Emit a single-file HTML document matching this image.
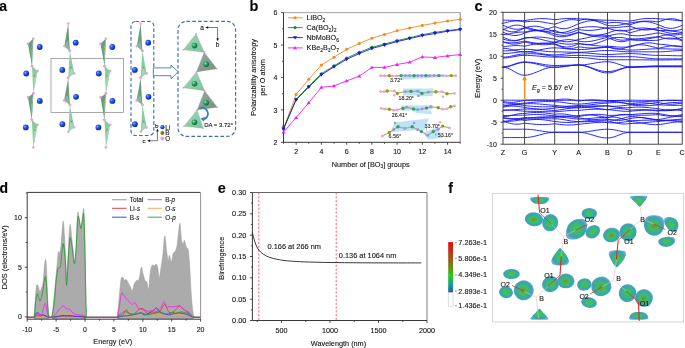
<!DOCTYPE html>
<html><head><meta charset="utf-8"><style>
html,body{margin:0;padding:0;background:#fff;width:685px;height:348px;overflow:hidden}
svg{display:block;font-family:"Liberation Sans",sans-serif}
svg text{opacity:0.995;stroke:#161616;stroke-width:0.12px}
</style></head><body>
<svg width="685" height="348" viewBox="0 0 685 348">
<rect width="685" height="348" fill="#fff"/>
<text x="-0.8" y="11" font-size="14" font-weight="bold">a</text>
<defs>
<radialGradient id="li" cx="35%" cy="35%" r="65%">
<stop offset="0" stop-color="#8fb0ff"/>
<stop offset="0.35" stop-color="#3060f0"/>
<stop offset="1" stop-color="#0a25a8"/>
</radialGradient>
<radialGradient id="bg" cx="35%" cy="35%" r="65%">
<stop offset="0" stop-color="#a8f0c0"/>
<stop offset="0.4" stop-color="#2aa860"/>
<stop offset="1" stop-color="#0c6a34"/>
</radialGradient>
<linearGradient id="tl" x1="0" y1="0" x2="1" y2="1">
<stop offset="0" stop-color="#a4d8b8"/>
<stop offset="1" stop-color="#7cc29c"/>
</linearGradient>
<linearGradient id="td" x1="0" y1="0" x2="1" y2="1">
<stop offset="0" stop-color="#98ac9f"/>
<stop offset="1" stop-color="#768e80"/>
</linearGradient>
</defs>
<rect x="51.0" y="58.6" width="72.6" height="53.8" fill="none" stroke="#8e8e8e" stroke-width="0.75"/>
<polygon points="27.9,43.8 33.3,38.6 32,66.2" fill="#6a9c80"/>
<polygon points="33.3,38.6 32,66.2 31.07,49.53" fill="#8fbfa2" opacity="0.8"/>
<circle cx="31.5" cy="48.8" r="0.85" fill="#a89a10"/>
<polygon points="32,66.2 37.6,71 33.3,93.4" fill="#86cca4"/>
<polygon points="37.6,71 33.3,93.4 34.3,76.87" fill="#a8dcbc" opacity="0.8"/>
<circle cx="34.5" cy="76" r="0.85" fill="#a89a10"/>
<polygon points="27.9,97.2 33.3,93.4 31.8,119.8" fill="#6a9c80"/>
<polygon points="33.3,93.4 31.8,119.8 31,103.47" fill="#8fbfa2" opacity="0.8"/>
<circle cx="31.8" cy="102.6" r="0.85" fill="#a89a10"/>
<polygon points="31.8,119.8 37.6,124.8 33.3,147.4" fill="#86cca4"/>
<polygon points="37.6,124.8 33.3,147.4 34.23,130.67" fill="#a8dcbc" opacity="0.8"/>
<circle cx="34.8" cy="130" r="0.85" fill="#a89a10"/>
<circle cx="27.9" cy="43.8" r="1.15" fill="#f2a6d4" stroke="#d884b8" stroke-width="0.25"/>
<circle cx="33.3" cy="38.6" r="1.15" fill="#f2a6d4" stroke="#d884b8" stroke-width="0.25"/>
<circle cx="32" cy="66.2" r="1.15" fill="#f2a6d4" stroke="#d884b8" stroke-width="0.25"/>
<circle cx="32" cy="66.2" r="1.15" fill="#f2a6d4" stroke="#d884b8" stroke-width="0.25"/>
<circle cx="37.6" cy="71" r="1.15" fill="#f2a6d4" stroke="#d884b8" stroke-width="0.25"/>
<circle cx="33.3" cy="93.4" r="1.15" fill="#f2a6d4" stroke="#d884b8" stroke-width="0.25"/>
<circle cx="27.9" cy="97.2" r="1.15" fill="#f2a6d4" stroke="#d884b8" stroke-width="0.25"/>
<circle cx="33.3" cy="93.4" r="1.15" fill="#f2a6d4" stroke="#d884b8" stroke-width="0.25"/>
<circle cx="31.8" cy="119.8" r="1.15" fill="#f2a6d4" stroke="#d884b8" stroke-width="0.25"/>
<circle cx="31.8" cy="119.8" r="1.15" fill="#f2a6d4" stroke="#d884b8" stroke-width="0.25"/>
<circle cx="37.6" cy="124.8" r="1.15" fill="#f2a6d4" stroke="#d884b8" stroke-width="0.25"/>
<circle cx="33.3" cy="147.4" r="1.15" fill="#f2a6d4" stroke="#d884b8" stroke-width="0.25"/>
<circle cx="39.7" cy="47" r="2.9" fill="url(#li)"/>
<circle cx="26.2" cy="73.5" r="2.9" fill="url(#li)"/>
<circle cx="39.8" cy="100.9" r="2.9" fill="url(#li)"/>
<circle cx="25.8" cy="127.4" r="2.9" fill="url(#li)"/>
<polygon points="68.2,23.6 64.3,46.2 69.9,50.9" fill="#6a9c80"/>
<polygon points="64.3,46.2 69.9,50.9 67.47,40.23" fill="#8fbfa2" opacity="0.8"/>
<circle cx="67.7" cy="40.8" r="0.85" fill="#a89a10"/>
<polygon points="69.9,50.9 74.2,73.5 68.2,77.8" fill="#86cca4"/>
<polygon points="74.2,73.5 68.2,77.8 70.77,67.4" fill="#a8dcbc" opacity="0.8"/>
<circle cx="71" cy="67.7" r="0.85" fill="#a89a10"/>
<polygon points="68.2,77.8 64.1,100.5 69.9,104.8" fill="#6a9c80"/>
<polygon points="64.1,100.5 69.9,104.8 67.4,94.37" fill="#8fbfa2" opacity="0.8"/>
<circle cx="67.8" cy="95" r="0.85" fill="#a89a10"/>
<polygon points="69.9,104.8 74.2,127.4 68.4,131.7" fill="#86cca4"/>
<polygon points="74.2,127.4 68.4,131.7 70.83,121.3" fill="#a8dcbc" opacity="0.8"/>
<circle cx="71" cy="121.6" r="0.85" fill="#a89a10"/>
<circle cx="68.2" cy="23.6" r="1.15" fill="#f2a6d4" stroke="#d884b8" stroke-width="0.25"/>
<circle cx="64.3" cy="46.2" r="1.15" fill="#f2a6d4" stroke="#d884b8" stroke-width="0.25"/>
<circle cx="69.9" cy="50.9" r="1.15" fill="#f2a6d4" stroke="#d884b8" stroke-width="0.25"/>
<circle cx="69.9" cy="50.9" r="1.15" fill="#f2a6d4" stroke="#d884b8" stroke-width="0.25"/>
<circle cx="74.2" cy="73.5" r="1.15" fill="#f2a6d4" stroke="#d884b8" stroke-width="0.25"/>
<circle cx="68.2" cy="77.8" r="1.15" fill="#f2a6d4" stroke="#d884b8" stroke-width="0.25"/>
<circle cx="68.2" cy="77.8" r="1.15" fill="#f2a6d4" stroke="#d884b8" stroke-width="0.25"/>
<circle cx="64.1" cy="100.5" r="1.15" fill="#f2a6d4" stroke="#d884b8" stroke-width="0.25"/>
<circle cx="69.9" cy="104.8" r="1.15" fill="#f2a6d4" stroke="#d884b8" stroke-width="0.25"/>
<circle cx="69.9" cy="104.8" r="1.15" fill="#f2a6d4" stroke="#d884b8" stroke-width="0.25"/>
<circle cx="74.2" cy="127.4" r="1.15" fill="#f2a6d4" stroke="#d884b8" stroke-width="0.25"/>
<circle cx="68.4" cy="131.7" r="1.15" fill="#f2a6d4" stroke="#d884b8" stroke-width="0.25"/>
<circle cx="75.7" cy="42.7" r="2.9" fill="url(#li)"/>
<circle cx="62.3" cy="69.9" r="2.9" fill="url(#li)"/>
<circle cx="76" cy="96.8" r="2.9" fill="url(#li)"/>
<circle cx="62.4" cy="124.2" r="2.9" fill="url(#li)"/>
<polygon points="100.5,43.8 105.9,38.6 104.6,66.2" fill="#6a9c80"/>
<polygon points="105.9,38.6 104.6,66.2 103.67,49.53" fill="#8fbfa2" opacity="0.8"/>
<circle cx="104.1" cy="48.8" r="0.85" fill="#a89a10"/>
<polygon points="104.6,66.2 110.2,71 105.9,93.4" fill="#86cca4"/>
<polygon points="110.2,71 105.9,93.4 106.9,76.87" fill="#a8dcbc" opacity="0.8"/>
<circle cx="107.1" cy="76" r="0.85" fill="#a89a10"/>
<polygon points="100.5,97.2 105.9,93.4 104.4,119.8" fill="#6a9c80"/>
<polygon points="105.9,93.4 104.4,119.8 103.6,103.47" fill="#8fbfa2" opacity="0.8"/>
<circle cx="104.4" cy="102.6" r="0.85" fill="#a89a10"/>
<polygon points="104.4,119.8 110.2,124.8 105.9,147.4" fill="#86cca4"/>
<polygon points="110.2,124.8 105.9,147.4 106.83,130.67" fill="#a8dcbc" opacity="0.8"/>
<circle cx="107.4" cy="130" r="0.85" fill="#a89a10"/>
<circle cx="100.5" cy="43.8" r="1.15" fill="#f2a6d4" stroke="#d884b8" stroke-width="0.25"/>
<circle cx="105.9" cy="38.6" r="1.15" fill="#f2a6d4" stroke="#d884b8" stroke-width="0.25"/>
<circle cx="104.6" cy="66.2" r="1.15" fill="#f2a6d4" stroke="#d884b8" stroke-width="0.25"/>
<circle cx="104.6" cy="66.2" r="1.15" fill="#f2a6d4" stroke="#d884b8" stroke-width="0.25"/>
<circle cx="110.2" cy="71" r="1.15" fill="#f2a6d4" stroke="#d884b8" stroke-width="0.25"/>
<circle cx="105.9" cy="93.4" r="1.15" fill="#f2a6d4" stroke="#d884b8" stroke-width="0.25"/>
<circle cx="100.5" cy="97.2" r="1.15" fill="#f2a6d4" stroke="#d884b8" stroke-width="0.25"/>
<circle cx="105.9" cy="93.4" r="1.15" fill="#f2a6d4" stroke="#d884b8" stroke-width="0.25"/>
<circle cx="104.4" cy="119.8" r="1.15" fill="#f2a6d4" stroke="#d884b8" stroke-width="0.25"/>
<circle cx="104.4" cy="119.8" r="1.15" fill="#f2a6d4" stroke="#d884b8" stroke-width="0.25"/>
<circle cx="110.2" cy="124.8" r="1.15" fill="#f2a6d4" stroke="#d884b8" stroke-width="0.25"/>
<circle cx="105.9" cy="147.4" r="1.15" fill="#f2a6d4" stroke="#d884b8" stroke-width="0.25"/>
<circle cx="112.3" cy="47" r="2.9" fill="url(#li)"/>
<circle cx="98.8" cy="73.5" r="2.9" fill="url(#li)"/>
<circle cx="112.4" cy="100.9" r="2.9" fill="url(#li)"/>
<circle cx="98.4" cy="127.4" r="2.9" fill="url(#li)"/>
<polygon points="140.7,23.6 136.8,46.2 142.4,50.9" fill="#6a9c80"/>
<polygon points="136.8,46.2 142.4,50.9 139.97,40.23" fill="#8fbfa2" opacity="0.8"/>
<circle cx="140.2" cy="40.8" r="0.85" fill="#a89a10"/>
<polygon points="142.4,50.9 146.7,73.5 140.7,77.8" fill="#86cca4"/>
<polygon points="146.7,73.5 140.7,77.8 143.27,67.4" fill="#a8dcbc" opacity="0.8"/>
<circle cx="143.5" cy="67.7" r="0.85" fill="#a89a10"/>
<polygon points="140.7,77.8 136.6,100.5 142.4,104.8" fill="#6a9c80"/>
<polygon points="136.6,100.5 142.4,104.8 139.9,94.37" fill="#8fbfa2" opacity="0.8"/>
<circle cx="140.3" cy="95" r="0.85" fill="#a89a10"/>
<polygon points="142.4,104.8 146.7,127.4 140.9,131.7" fill="#86cca4"/>
<polygon points="146.7,127.4 140.9,131.7 143.33,121.3" fill="#a8dcbc" opacity="0.8"/>
<circle cx="143.5" cy="121.6" r="0.85" fill="#a89a10"/>
<circle cx="140.7" cy="23.6" r="1.15" fill="#f2a6d4" stroke="#d884b8" stroke-width="0.25"/>
<circle cx="136.8" cy="46.2" r="1.15" fill="#f2a6d4" stroke="#d884b8" stroke-width="0.25"/>
<circle cx="142.4" cy="50.9" r="1.15" fill="#f2a6d4" stroke="#d884b8" stroke-width="0.25"/>
<circle cx="142.4" cy="50.9" r="1.15" fill="#f2a6d4" stroke="#d884b8" stroke-width="0.25"/>
<circle cx="146.7" cy="73.5" r="1.15" fill="#f2a6d4" stroke="#d884b8" stroke-width="0.25"/>
<circle cx="140.7" cy="77.8" r="1.15" fill="#f2a6d4" stroke="#d884b8" stroke-width="0.25"/>
<circle cx="140.7" cy="77.8" r="1.15" fill="#f2a6d4" stroke="#d884b8" stroke-width="0.25"/>
<circle cx="136.6" cy="100.5" r="1.15" fill="#f2a6d4" stroke="#d884b8" stroke-width="0.25"/>
<circle cx="142.4" cy="104.8" r="1.15" fill="#f2a6d4" stroke="#d884b8" stroke-width="0.25"/>
<circle cx="142.4" cy="104.8" r="1.15" fill="#f2a6d4" stroke="#d884b8" stroke-width="0.25"/>
<circle cx="146.7" cy="127.4" r="1.15" fill="#f2a6d4" stroke="#d884b8" stroke-width="0.25"/>
<circle cx="140.9" cy="131.7" r="1.15" fill="#f2a6d4" stroke="#d884b8" stroke-width="0.25"/>
<circle cx="148.2" cy="42.7" r="2.9" fill="url(#li)"/>
<circle cx="134.8" cy="69.9" r="2.9" fill="url(#li)"/>
<circle cx="148.5" cy="96.8" r="2.9" fill="url(#li)"/>
<circle cx="134.9" cy="124.2" r="2.9" fill="url(#li)"/>
<rect x="131.0" y="21.5" width="22.8" height="114.0" rx="4.5" fill="none" stroke="#3e6fa6" stroke-width="1.15" stroke-dasharray="3.6 2.2"/>
<rect x="178.0" y="21.4" width="57.6" height="115.0" rx="8.5" fill="none" stroke="#3e6fa6" stroke-width="1.15" stroke-dasharray="3.6 2.2"/>
<polygon points="153.3,67.9 171,67.9 171,65.1 178.1,71.8 171,78.9 171,75.7 153.3,75.7" fill="#fff" stroke="#4a78ae" stroke-width="0.9"/>
<path d="M157.4 140.7 V131 M157.4 140.7 H149.5" fill="none" stroke="#222" stroke-width="0.6"/>
<polygon points="156.1,131.6 158.7,131.6 157.4,128.6" fill="#161616"/>
<polygon points="150.1,139.4 150.1,142.0 147.1,140.7" fill="#161616"/>
<text x="154.9" y="127.8" font-size="6.2" fill="#161616">b</text>
<text x="142.6" y="142.9" font-size="6.2" fill="#161616">c</text>
<circle cx="162.4" cy="127.2" r="2.1" fill="url(#li)"/>
<circle cx="162.4" cy="132.9" r="2.0" fill="#8a7a10"/>
<circle cx="162.4" cy="138.6" r="2.0" fill="#f0a0d0"/>
<text x="165.3" y="129.5" font-size="6.3" fill="#161616">Li</text>
<text x="165.3" y="135.2" font-size="6.3" fill="#161616">B</text>
<text x="165.3" y="140.9" font-size="6.3" fill="#161616">O</text>
<polygon points="196.1,33.7 183.4,49.8 204.2,52.2" fill="url(#tl)" stroke="#7aa890" stroke-width="0.3"/>
<polygon points="204.2,52.2 196.5,71.9 216.8,68.7" fill="url(#td)" stroke="#7aa890" stroke-width="0.3"/>
<polygon points="196.5,71.9 183.4,87.7 204.6,90.7" fill="url(#tl)" stroke="#7aa890" stroke-width="0.3"/>
<polygon points="204.6,90.7 197.1,109.9 217.2,107.2" fill="url(#td)" stroke="#7aa890" stroke-width="0.3"/>
<polygon points="197.1,109.9 184,126.3 203.2,128.3" fill="url(#tl)" stroke="#7aa890" stroke-width="0.3"/>
<circle cx="196.1" cy="33.7" r="0.7" fill="#e880c0"/>
<circle cx="183.4" cy="49.8" r="0.7" fill="#e880c0"/>
<circle cx="204.2" cy="52.2" r="0.7" fill="#e880c0"/>
<circle cx="194.5" cy="45.6" r="2.8" fill="url(#bg)"/>
<circle cx="204.2" cy="52.2" r="0.7" fill="#e880c0"/>
<circle cx="196.5" cy="71.9" r="0.7" fill="#e880c0"/>
<circle cx="216.8" cy="68.7" r="0.7" fill="#e880c0"/>
<circle cx="206.2" cy="64.3" r="2.8" fill="url(#bg)"/>
<circle cx="196.5" cy="71.9" r="0.7" fill="#e880c0"/>
<circle cx="183.4" cy="87.7" r="0.7" fill="#e880c0"/>
<circle cx="204.6" cy="90.7" r="0.7" fill="#e880c0"/>
<circle cx="194.5" cy="83.7" r="2.8" fill="url(#bg)"/>
<circle cx="204.6" cy="90.7" r="0.7" fill="#e880c0"/>
<circle cx="197.1" cy="109.9" r="0.7" fill="#e880c0"/>
<circle cx="217.2" cy="107.2" r="0.7" fill="#e880c0"/>
<circle cx="206.2" cy="102.8" r="2.8" fill="url(#bg)"/>
<circle cx="197.1" cy="109.9" r="0.7" fill="#e880c0"/>
<circle cx="184" cy="126.3" r="0.7" fill="#e880c0"/>
<circle cx="203.2" cy="128.3" r="0.7" fill="#e880c0"/>
<circle cx="194.5" cy="122.3" r="2.8" fill="url(#bg)"/>
<path d="M217.6 27.5 H207.5 M217.6 27.5 V38.8" fill="none" stroke="#222" stroke-width="0.6"/>
<polygon points="208.2,26.2 208.2,28.8 205.2,27.5" fill="#161616"/>
<polygon points="216.3,38.2 218.9,38.2 217.6,41.2" fill="#161616"/>
<text x="200.2" y="29.8" font-size="6.5" fill="#161616">a</text>
<text x="215.8" y="47.2" font-size="6.5" fill="#161616">b</text>
<path d="M199.4 108.2 C206.5 105.8 211.2 114.2 205.0 119.0" fill="none" stroke="#3a7fc4" stroke-width="1.7"/>
<polygon points="206.6,116.6 203.6,121.6 200.4,118.6" fill="#3a7fc4"/>
<text x="204.2" y="127.1" font-size="6.0" fill="#161616">DA = 3.72°</text>
<text x="249.4" y="10.5" font-size="14.5" font-weight="bold">b</text>
<line x1="283.5" y1="12.6" x2="460.2" y2="12.6" stroke="#9a9a9a" stroke-width="0.9"/>
<line x1="460.2" y1="12.6" x2="460.2" y2="142.3" stroke="#777" stroke-width="0.9"/>
<path d="M283.5 12.6 V142.3 H460.2" fill="none" stroke="#222" stroke-width="0.9"/>
<line x1="281" y1="142.3" x2="283.5" y2="142.3" stroke="#222" stroke-width="0.8"/>
<text x="277.3" y="145.1" font-size="7" text-anchor="end" fill="#161616">2</text>
<line x1="281" y1="109.88" x2="283.5" y2="109.88" stroke="#222" stroke-width="0.8"/>
<text x="277.3" y="112.67" font-size="7" text-anchor="end" fill="#161616">3</text>
<line x1="281" y1="77.45" x2="283.5" y2="77.45" stroke="#222" stroke-width="0.8"/>
<text x="277.3" y="80.25" font-size="7" text-anchor="end" fill="#161616">4</text>
<line x1="281" y1="45.03" x2="283.5" y2="45.03" stroke="#222" stroke-width="0.8"/>
<text x="277.3" y="47.83" font-size="7" text-anchor="end" fill="#161616">5</text>
<line x1="281" y1="12.6" x2="283.5" y2="12.6" stroke="#222" stroke-width="0.8"/>
<text x="277.3" y="15.4" font-size="7" text-anchor="end" fill="#161616">6</text>
<line x1="282" y1="126.09" x2="283.5" y2="126.09" stroke="#222" stroke-width="0.7"/>
<line x1="282" y1="93.66" x2="283.5" y2="93.66" stroke="#222" stroke-width="0.7"/>
<line x1="282" y1="61.24" x2="283.5" y2="61.24" stroke="#222" stroke-width="0.7"/>
<line x1="282" y1="28.81" x2="283.5" y2="28.81" stroke="#222" stroke-width="0.7"/>
<line x1="283.5" y1="142.3" x2="283.5" y2="143.8" stroke="#222" stroke-width="0.8"/>
<line x1="296.12" y1="142.3" x2="296.12" y2="144.8" stroke="#222" stroke-width="0.8"/>
<text x="296.12" y="154.3" font-size="7" text-anchor="middle" fill="#161616">2</text>
<line x1="308.74" y1="142.3" x2="308.74" y2="143.8" stroke="#222" stroke-width="0.8"/>
<line x1="321.36" y1="142.3" x2="321.36" y2="144.8" stroke="#222" stroke-width="0.8"/>
<text x="321.36" y="154.3" font-size="7" text-anchor="middle" fill="#161616">4</text>
<line x1="333.99" y1="142.3" x2="333.99" y2="143.8" stroke="#222" stroke-width="0.8"/>
<line x1="346.61" y1="142.3" x2="346.61" y2="144.8" stroke="#222" stroke-width="0.8"/>
<text x="346.61" y="154.3" font-size="7" text-anchor="middle" fill="#161616">6</text>
<line x1="359.23" y1="142.3" x2="359.23" y2="143.8" stroke="#222" stroke-width="0.8"/>
<line x1="371.85" y1="142.3" x2="371.85" y2="144.8" stroke="#222" stroke-width="0.8"/>
<text x="371.85" y="154.3" font-size="7" text-anchor="middle" fill="#161616">8</text>
<line x1="384.47" y1="142.3" x2="384.47" y2="143.8" stroke="#222" stroke-width="0.8"/>
<line x1="397.09" y1="142.3" x2="397.09" y2="144.8" stroke="#222" stroke-width="0.8"/>
<text x="397.09" y="154.3" font-size="7" text-anchor="middle" fill="#161616">10</text>
<line x1="409.71" y1="142.3" x2="409.71" y2="143.8" stroke="#222" stroke-width="0.8"/>
<line x1="422.34" y1="142.3" x2="422.34" y2="144.8" stroke="#222" stroke-width="0.8"/>
<text x="422.34" y="154.3" font-size="7" text-anchor="middle" fill="#161616">12</text>
<line x1="434.96" y1="142.3" x2="434.96" y2="143.8" stroke="#222" stroke-width="0.8"/>
<line x1="447.58" y1="142.3" x2="447.58" y2="144.8" stroke="#222" stroke-width="0.8"/>
<text x="447.58" y="154.3" font-size="7" text-anchor="middle" fill="#161616">14</text>
<line x1="460.2" y1="142.3" x2="460.2" y2="143.8" stroke="#222" stroke-width="0.8"/>
<text x="370.7" y="166.6" font-size="7.3" text-anchor="middle" fill="#161616">Number of [BO<tspan font-size="5" dy="1.8">3</tspan><tspan dy="-1.8">] groups</tspan></text>
<text transform="translate(255.7 77.45) rotate(-90)" font-size="7.3" text-anchor="middle" fill="#161616">Polarizability anisotropy</text>
<text transform="translate(265.3 77.45) rotate(-90)" font-size="7.3" text-anchor="middle" fill="#161616">per O atom</text>
<polyline points="283.5,128.8 296.12,94.4 308.74,79.3 321.36,65.1 333.99,57.2 346.61,49.3 359.23,43.5 371.85,38.2 384.47,34.5 397.09,30.7 409.71,28 422.34,25.4 434.96,23.1 447.58,21 460.2,19.3" fill="none" stroke="#f7891f" stroke-width="0.9"/>
<circle cx="283.5" cy="128.8" r="1.55" fill="#f7891f"/>
<circle cx="296.12" cy="94.4" r="1.55" fill="#f7891f"/>
<circle cx="308.74" cy="79.3" r="1.55" fill="#f7891f"/>
<circle cx="321.36" cy="65.1" r="1.55" fill="#f7891f"/>
<circle cx="333.99" cy="57.2" r="1.55" fill="#f7891f"/>
<circle cx="346.61" cy="49.3" r="1.55" fill="#f7891f"/>
<circle cx="359.23" cy="43.5" r="1.55" fill="#f7891f"/>
<circle cx="371.85" cy="38.2" r="1.55" fill="#f7891f"/>
<circle cx="384.47" cy="34.5" r="1.55" fill="#f7891f"/>
<circle cx="397.09" cy="30.7" r="1.55" fill="#f7891f"/>
<circle cx="409.71" cy="28" r="1.55" fill="#f7891f"/>
<circle cx="422.34" cy="25.4" r="1.55" fill="#f7891f"/>
<circle cx="434.96" cy="23.1" r="1.55" fill="#f7891f"/>
<circle cx="447.58" cy="21" r="1.55" fill="#f7891f"/>
<circle cx="460.2" cy="19.3" r="1.55" fill="#f7891f"/>
<polyline points="283.5,128.6 296.12,99.2 308.74,86.2 321.36,73.7 333.99,65.9 346.61,58.1 359.23,52.3 371.85,47.3 384.47,44.1 397.09,40.6 409.71,37.7 422.34,34.7 434.96,32.3 447.58,30.6 460.2,29" fill="none" stroke="#1c8a2a" stroke-width="0.9"/>
<circle cx="283.5" cy="128.6" r="1.55" fill="#1c8a2a"/>
<circle cx="296.12" cy="99.2" r="1.55" fill="#1c8a2a"/>
<circle cx="308.74" cy="86.2" r="1.55" fill="#1c8a2a"/>
<circle cx="321.36" cy="73.7" r="1.55" fill="#1c8a2a"/>
<circle cx="333.99" cy="65.9" r="1.55" fill="#1c8a2a"/>
<circle cx="346.61" cy="58.1" r="1.55" fill="#1c8a2a"/>
<circle cx="359.23" cy="52.3" r="1.55" fill="#1c8a2a"/>
<circle cx="371.85" cy="47.3" r="1.55" fill="#1c8a2a"/>
<circle cx="384.47" cy="44.1" r="1.55" fill="#1c8a2a"/>
<circle cx="397.09" cy="40.6" r="1.55" fill="#1c8a2a"/>
<circle cx="409.71" cy="37.7" r="1.55" fill="#1c8a2a"/>
<circle cx="422.34" cy="34.7" r="1.55" fill="#1c8a2a"/>
<circle cx="434.96" cy="32.3" r="1.55" fill="#1c8a2a"/>
<circle cx="447.58" cy="30.6" r="1.55" fill="#1c8a2a"/>
<circle cx="460.2" cy="29" r="1.55" fill="#1c8a2a"/>
<polyline points="283.5,129 296.12,99.8 308.74,87.1 321.36,74.9 333.99,66.8 346.61,59.3 359.23,53.6 371.85,48.5 384.47,45 397.09,41.6 409.71,38.6 422.34,35.6 434.96,33.5 447.58,31.2 460.2,29.6" fill="none" stroke="#1414f0" stroke-width="0.9"/>
<polygon points="281.5,127.6 285.5,127.6 283.5,130.9" fill="#1414f0"/>
<polygon points="294.12,98.4 298.12,98.4 296.12,101.7" fill="#1414f0"/>
<polygon points="306.74,85.7 310.74,85.7 308.74,89" fill="#1414f0"/>
<polygon points="319.36,73.5 323.36,73.5 321.36,76.8" fill="#1414f0"/>
<polygon points="331.99,65.4 335.99,65.4 333.99,68.7" fill="#1414f0"/>
<polygon points="344.61,57.9 348.61,57.9 346.61,61.2" fill="#1414f0"/>
<polygon points="357.23,52.2 361.23,52.2 359.23,55.5" fill="#1414f0"/>
<polygon points="369.85,47.1 373.85,47.1 371.85,50.4" fill="#1414f0"/>
<polygon points="382.47,43.6 386.47,43.6 384.47,46.9" fill="#1414f0"/>
<polygon points="395.09,40.2 399.09,40.2 397.09,43.5" fill="#1414f0"/>
<polygon points="407.71,37.2 411.71,37.2 409.71,40.5" fill="#1414f0"/>
<polygon points="420.34,34.2 424.34,34.2 422.34,37.5" fill="#1414f0"/>
<polygon points="432.96,32.1 436.96,32.1 434.96,35.4" fill="#1414f0"/>
<polygon points="445.58,29.8 449.58,29.8 447.58,33.1" fill="#1414f0"/>
<polygon points="458.2,28.2 462.2,28.2 460.2,31.5" fill="#1414f0"/>
<polyline points="283.5,132.2 296.12,117.6 308.74,102.9 321.36,87.3 333.99,85.9 346.61,80.9 359.23,76.2 371.85,67.4 384.47,67.4 397.09,64.5 409.71,62.2 422.34,56.9 434.96,57.5 447.58,55.8 460.2,54.6" fill="none" stroke="#f01cf0" stroke-width="0.9"/>
<polygon points="281.5,133.6 285.5,133.6 283.5,130.3" fill="#f01cf0"/>
<polygon points="294.12,119 298.12,119 296.12,115.7" fill="#f01cf0"/>
<polygon points="306.74,104.3 310.74,104.3 308.74,101" fill="#f01cf0"/>
<polygon points="319.36,88.7 323.36,88.7 321.36,85.4" fill="#f01cf0"/>
<polygon points="331.99,87.3 335.99,87.3 333.99,84" fill="#f01cf0"/>
<polygon points="344.61,82.3 348.61,82.3 346.61,79" fill="#f01cf0"/>
<polygon points="357.23,77.6 361.23,77.6 359.23,74.3" fill="#f01cf0"/>
<polygon points="369.85,68.8 373.85,68.8 371.85,65.5" fill="#f01cf0"/>
<polygon points="382.47,68.8 386.47,68.8 384.47,65.5" fill="#f01cf0"/>
<polygon points="395.09,65.9 399.09,65.9 397.09,62.6" fill="#f01cf0"/>
<polygon points="407.71,63.6 411.71,63.6 409.71,60.3" fill="#f01cf0"/>
<polygon points="420.34,58.3 424.34,58.3 422.34,55" fill="#f01cf0"/>
<polygon points="432.96,58.9 436.96,58.9 434.96,55.6" fill="#f01cf0"/>
<polygon points="445.58,57.2 449.58,57.2 447.58,53.9" fill="#f01cf0"/>
<polygon points="458.2,56 462.2,56 460.2,52.7" fill="#f01cf0"/>
<line x1="287.8" y1="17.8" x2="302.8" y2="17.8" stroke="#f7891f" stroke-width="0.9"/>
<circle cx="295.05" cy="17.8" r="1.55" fill="#f7891f"/>
<text x="306.6" y="20.3" font-size="7.2" fill="#161616">LiBO<tspan font-size="5" dy="1.8">2</tspan></text>
<line x1="287.8" y1="27.6" x2="302.8" y2="27.6" stroke="#1c8a2a" stroke-width="0.9"/>
<circle cx="295.05" cy="27.6" r="1.55" fill="#1c8a2a"/>
<text x="306.6" y="30.1" font-size="7.2" fill="#161616">Ca(BO<tspan font-size="5" dy="1.8">2</tspan><tspan dy="-1.8">)</tspan><tspan font-size="5" dy="1.8">2</tspan></text>
<line x1="287.8" y1="37.6" x2="302.8" y2="37.6" stroke="#1414f0" stroke-width="0.9"/>
<polygon points="293.05,36.2 297.05,36.2 295.05,39.5" fill="#1414f0"/>
<text x="306.6" y="40.1" font-size="7.2" fill="#161616">NbMoBO<tspan font-size="5" dy="1.8">6</tspan></text>
<line x1="287.8" y1="47.9" x2="302.8" y2="47.9" stroke="#f01cf0" stroke-width="0.9"/>
<polygon points="293.05,49.3 297.05,49.3 295.05,46" fill="#f01cf0"/>
<text x="306.6" y="50.4" font-size="7.2" fill="#161616">KBe<tspan font-size="5" dy="1.8">2</tspan><tspan dy="-1.8">B</tspan><tspan font-size="5" dy="1.8">3</tspan><tspan dy="-1.8">O</tspan><tspan font-size="5" dy="1.8">7</tspan></text>
<polygon points="400.5,74 445,74.3 444,77 402,79.8" fill="#b4def4" opacity="0.85"/>
<polyline points="380.6,75.7 384.5,75.8 389.3,75.7 392.4,75.9 396.5,75.9 401,75.6 405.4,75.7 409.5,75.8 414.1,75.7 417.8,75.8 421.5,75.7 425.9,75.6 429.6,75.7 434,75.6 438.9,75.6 442.6,75.9 446.5,75.9 451.3,75.6 455.6,75.8" fill="none" stroke="#9aa060" stroke-width="1.2" stroke-opacity="0.8"/>
<circle cx="380.6" cy="75.7" r="1.45" fill="#f0a0d8"/>
<circle cx="384.5" cy="75.8" r="1.45" fill="#f0a0d8"/>
<circle cx="389.3" cy="75.7" r="1.7" fill="#9a9a18"/>
<circle cx="392.4" cy="75.9" r="1.45" fill="#f0a0d8"/>
<circle cx="396.5" cy="75.9" r="1.45" fill="#f0a0d8"/>
<circle cx="401" cy="75.6" r="1.7" fill="#3a9a60"/>
<circle cx="405.4" cy="75.7" r="1.45" fill="#a090e0"/>
<circle cx="409.5" cy="75.8" r="1.45" fill="#a090e0"/>
<circle cx="414.1" cy="75.7" r="1.7" fill="#3a9a60"/>
<circle cx="417.8" cy="75.8" r="1.45" fill="#a090e0"/>
<circle cx="421.5" cy="75.7" r="1.45" fill="#a090e0"/>
<circle cx="425.9" cy="75.6" r="1.7" fill="#3a9a60"/>
<circle cx="429.6" cy="75.7" r="1.45" fill="#a090e0"/>
<circle cx="434" cy="75.6" r="1.45" fill="#a090e0"/>
<circle cx="438.9" cy="75.6" r="1.7" fill="#3a9a60"/>
<circle cx="442.6" cy="75.9" r="1.45" fill="#f0a0d8"/>
<circle cx="446.5" cy="75.9" r="1.45" fill="#f0a0d8"/>
<circle cx="451.3" cy="75.6" r="1.7" fill="#9a9a18"/>
<circle cx="455.6" cy="75.8" r="1.45" fill="#f0a0d8"/>
<text x="389.9" y="82.4" font-size="5.3" fill="#333">3.72°</text>
<polygon points="403,88.6 421.5,88.4 421.5,95.6 403,95.6" fill="#b4def4" opacity="0.85"/>
<polygon points="416,89 433.3,88.3 432.7,96 417,96.5" fill="#b4def4" opacity="0.85"/>
<polyline points="380.6,91.6 384.3,91.6 387.3,91 394.2,91 397.3,93.4 405.4,91.6 411,91.4 417.8,91.3 421.9,93.4 428.3,92.2 435.8,91.8 442,91.8 447,93.8 454.4,93.4" fill="none" stroke="#9aa060" stroke-width="1.2" stroke-opacity="0.8"/>
<circle cx="380.6" cy="91.6" r="1.45" fill="#f0a0d8"/>
<circle cx="384.3" cy="91.6" r="1.45" fill="#f0a0d8"/>
<circle cx="387.3" cy="91" r="1.7" fill="#9a9a18"/>
<circle cx="394.2" cy="91" r="1.45" fill="#f0a0d8"/>
<circle cx="397.3" cy="93.4" r="1.7" fill="#9a9a18"/>
<circle cx="405.4" cy="91.6" r="1.45" fill="#a090e0"/>
<circle cx="411" cy="91.4" r="1.7" fill="#3a9a60"/>
<circle cx="417.8" cy="91.3" r="1.45" fill="#7aa0f0"/>
<circle cx="421.9" cy="93.4" r="1.7" fill="#3a9a60"/>
<circle cx="428.3" cy="92.2" r="1.45" fill="#a090e0"/>
<circle cx="435.8" cy="91.8" r="1.7" fill="#9a9a18"/>
<circle cx="442" cy="91.8" r="1.45" fill="#f0a0d8"/>
<circle cx="447" cy="93.8" r="1.7" fill="#9a9a18"/>
<circle cx="454.4" cy="93.4" r="1.45" fill="#f0a0d8"/>
<circle cx="394.2" cy="95.3" r="1.2" fill="#f0a0d8"/>
<circle cx="418.4" cy="95.9" r="1.2" fill="#a090e0"/>
<circle cx="443" cy="96.8" r="1.2" fill="#f0a0d8"/>
<text x="398.6" y="99.8" font-size="5.3" fill="#333">18.20°</text>
<polygon points="401,105.4 433.3,105.2 432,109.5 402,111" fill="#b4def4" opacity="0.85"/>
<polygon points="412,110 430.5,110.5 432.7,114.3 416,113" fill="#b4def4" opacity="0.85"/>
<polyline points="381.2,108.4 385,108.9 389.3,109.3 393.6,110.2 397.3,109.9 402.9,108.4 406.6,107.2 413.5,108.9 417.8,109.7 422,109 426.5,108.1 430.8,106.8 438.3,107.7 442.6,109.3 446.9,108.9 450.7,106.8 454.4,106" fill="none" stroke="#9aa060" stroke-width="1.2" stroke-opacity="0.8"/>
<circle cx="381.2" cy="108.4" r="1.45" fill="#f0a0d8"/>
<circle cx="385" cy="108.9" r="1.45" fill="#f0a0d8"/>
<circle cx="389.3" cy="109.3" r="1.7" fill="#9a9a18"/>
<circle cx="393.6" cy="110.2" r="1.45" fill="#f0a0d8"/>
<circle cx="397.3" cy="109.9" r="1.45" fill="#f0a0d8"/>
<circle cx="402.9" cy="108.4" r="1.7" fill="#3a9a60"/>
<circle cx="406.6" cy="107.2" r="1.45" fill="#a090e0"/>
<circle cx="413.5" cy="108.9" r="1.7" fill="#3a9a60"/>
<circle cx="417.8" cy="109.7" r="1.45" fill="#7aa0f0"/>
<circle cx="422" cy="109" r="1.45" fill="#a090e0"/>
<circle cx="426.5" cy="108.1" r="1.7" fill="#3a9a60"/>
<circle cx="430.8" cy="106.8" r="1.45" fill="#a090e0"/>
<circle cx="438.3" cy="107.7" r="1.7" fill="#9a9a18"/>
<circle cx="442.6" cy="109.3" r="1.45" fill="#f0a0d8"/>
<circle cx="446.9" cy="108.9" r="1.45" fill="#f0a0d8"/>
<circle cx="450.7" cy="106.8" r="1.7" fill="#9a9a18"/>
<circle cx="454.4" cy="106" r="1.45" fill="#f0a0d8"/>
<text x="391.7" y="117.0" font-size="5.3" fill="#333">26.41°</text>
<polygon points="390.5,132 395,122.3 429,118.6 424.5,129.8" fill="#b4def4" opacity="0.85"/>
<polygon points="423.5,133 437.5,126.5 442.5,138 428,139.5" fill="#b4def4" opacity="0.85"/>
<polyline points="382.4,136 389.3,132.5 393.6,129.8 398,126.7 404.8,128.5 412.2,126.7 417.8,129.8 421.5,131.6 427.7,135.4 433.3,131.6 438.3,129.2 442.6,126.1 449.4,127.9" fill="none" stroke="#9aa060" stroke-width="1.2" stroke-opacity="0.8"/>
<circle cx="382.4" cy="136" r="1.45" fill="#f0a0d8"/>
<circle cx="389.3" cy="132.5" r="1.7" fill="#9a9a18"/>
<circle cx="393.6" cy="129.8" r="1.45" fill="#a090e0"/>
<circle cx="398" cy="126.7" r="1.7" fill="#3a9a60"/>
<circle cx="404.8" cy="128.5" r="1.45" fill="#a090e0"/>
<circle cx="412.2" cy="126.7" r="1.7" fill="#3a9a60"/>
<circle cx="417.8" cy="129.8" r="1.45" fill="#a090e0"/>
<circle cx="421.5" cy="131.6" r="1.7" fill="#3a9a60"/>
<circle cx="427.7" cy="135.4" r="1.45" fill="#7aa0f0"/>
<circle cx="433.3" cy="131.6" r="1.7" fill="#3a9a60"/>
<circle cx="438.3" cy="129.2" r="1.45" fill="#a090e0"/>
<circle cx="442.6" cy="126.1" r="1.7" fill="#9a9a18"/>
<circle cx="449.4" cy="127.9" r="1.45" fill="#f0a0d8"/>
<circle cx="394.9" cy="123" r="1.2" fill="#a090e0"/>
<circle cx="414.1" cy="123" r="1.2" fill="#a090e0"/>
<circle cx="440.1" cy="122.3" r="1.2" fill="#f0a0d8"/>
<line x1="426.5" y1="128" x2="426.5" y2="131" stroke="#555" stroke-width="0.4"/>
<line x1="435.8" y1="133" x2="435.8" y2="136" stroke="#555" stroke-width="0.4"/>
<text x="388.6" y="138.0" font-size="5.3" fill="#333">6.56°</text>
<text x="424.6" y="128.0" font-size="5.3" fill="#333">33.70°</text>
<text x="437.7" y="137.4" font-size="5.3" fill="#333">53.16°</text>
<text x="474.6" y="11.3" font-size="14.5" font-weight="bold">c</text>
<path d="M503 67.23 L505.16 67.43 L507.32 68 L509.48 68.89 L511.64 70.01 L513.8 71.25 L515.96 72.5 L518.12 73.62 L520.28 74.51 L522.44 75.08 L524.6 75.27 L527.61 74.94 L530.62 74.25 L533.63 73.26 L536.64 72.08 L539.65 70.81 L542.66 69.59 L545.67 68.53 L548.68 67.74 L551.69 67.29 L554.7 67.23 L557.09 67.18 L559.48 67.02 L561.87 66.78 L564.26 66.47 L566.65 66.13 L569.04 65.79 L571.43 65.49 L573.82 65.24 L576.21 65.09 L578.6 65.03 L581.49 65.23 L584.38 65.79 L587.27 66.66 L590.16 67.77 L593.05 68.99 L595.94 70.21 L598.83 71.31 L601.72 72.19 L604.61 72.75 L607.5 72.94 L609.74 72.8 L611.98 72.4 L614.22 71.77 L616.46 70.97 L618.7 70.09 L620.94 69.2 L623.18 68.41 L625.42 67.78 L627.66 67.37 L629.9 67.23 L632.74 67.22 L635.58 67.19 L638.42 67.14 L641.26 67.08 L644.1 67.01 L646.94 66.94 L649.78 66.88 L652.62 66.83 L655.46 66.8 L658.3 66.79 L660.69 66.79 L663.08 66.79 L665.47 66.79 L667.86 66.79 L670.25 66.79 L672.64 66.79 L675.03 66.79 L677.42 66.79 L679.81 66.79 L682.2 66.79 M503 67.23 L505.16 67.11 L507.32 66.77 L509.48 66.23 L511.64 65.56 L513.8 64.81 L515.96 64.07 L518.12 63.39 L520.28 62.86 L522.44 62.51 L524.6 62.39 L527.61 62.51 L530.62 62.86 L533.63 63.39 L536.64 64.07 L539.65 64.81 L542.66 65.56 L545.67 66.23 L548.68 66.77 L551.69 67.11 L554.7 67.23 L557.09 67.18 L559.48 67.02 L561.87 66.78 L564.26 66.47 L566.65 66.13 L569.04 65.79 L571.43 65.49 L573.82 65.24 L576.21 65.09 L578.6 65.03 L581.49 65.19 L584.38 65.66 L587.27 66.39 L590.16 67.31 L593.05 68.33 L595.94 69.35 L598.83 70.27 L601.72 71 L604.61 71.46 L607.5 71.63 L609.74 71.52 L611.98 71.21 L614.22 70.72 L616.46 70.11 L618.7 69.43 L620.94 68.75 L623.18 68.14 L625.42 67.65 L627.66 67.34 L629.9 67.23 L632.74 67.21 L635.58 67.15 L638.42 67.05 L641.26 66.93 L644.1 66.79 L646.94 66.65 L649.78 66.53 L652.62 66.43 L655.46 66.37 L658.3 66.35 L660.69 66.35 L663.08 66.35 L665.47 66.35 L667.86 66.35 L670.25 66.35 L672.64 66.35 L675.03 66.35 L677.42 66.35 L679.81 66.35 L682.2 66.35 M503 66.79 L505.16 66.67 L507.32 66.33 L509.48 65.79 L511.64 65.12 L513.8 64.37 L515.96 63.63 L518.12 62.95 L520.28 62.42 L522.44 62.07 L524.6 61.95 L527.61 62.04 L530.62 62.29 L533.63 62.68 L536.64 63.17 L539.65 63.71 L542.66 64.26 L545.67 64.75 L548.68 65.14 L551.69 65.39 L554.7 65.47 L557.09 65.46 L559.48 65.43 L561.87 65.38 L564.26 65.32 L566.65 65.25 L569.04 65.18 L571.43 65.12 L573.82 65.07 L576.21 65.04 L578.6 65.03 L581.49 64.95 L584.38 64.72 L587.27 64.35 L590.16 63.89 L593.05 63.38 L595.94 62.87 L598.83 62.41 L601.72 62.05 L604.61 61.82 L607.5 61.74 L609.74 61.86 L611.98 62.22 L614.22 62.78 L616.46 63.48 L618.7 64.26 L620.94 65.04 L623.18 65.75 L625.42 66.31 L627.66 66.67 L629.9 66.79 L632.74 66.77 L635.58 66.71 L638.42 66.61 L641.26 66.49 L644.1 66.35 L646.94 66.21 L649.78 66.09 L652.62 66 L655.46 65.93 L658.3 65.91 L660.69 65.91 L663.08 65.91 L665.47 65.91 L667.86 65.91 L670.25 65.91 L672.64 65.91 L675.03 65.91 L677.42 65.91 L679.81 65.91 L682.2 65.91 M503 58 L505.16 57.93 L507.32 57.75 L509.48 57.45 L511.64 57.09 L513.8 56.68 L515.96 56.27 L518.12 55.9 L520.28 55.61 L522.44 55.43 L524.6 55.36 L527.61 55.4 L530.62 55.53 L533.63 55.72 L536.64 55.97 L539.65 56.24 L542.66 56.51 L545.67 56.76 L548.68 56.95 L551.69 57.08 L554.7 57.12 L557.09 57.13 L559.48 57.16 L561.87 57.21 L564.26 57.27 L566.65 57.34 L569.04 57.41 L571.43 57.47 L573.82 57.52 L576.21 57.55 L578.6 57.56 L581.49 57.61 L584.38 57.77 L587.27 58.01 L590.16 58.32 L593.05 58.66 L595.94 59 L598.83 59.3 L601.72 59.55 L604.61 59.7 L607.5 59.76 L609.74 59.76 L611.98 59.76 L614.22 59.76 L616.46 59.76 L618.7 59.76 L620.94 59.76 L623.18 59.76 L625.42 59.76 L627.66 59.76 L629.9 59.76 L632.74 59.76 L635.58 59.78 L638.42 59.8 L641.26 59.83 L644.1 59.87 L646.94 59.9 L649.78 59.93 L652.62 59.96 L655.46 59.97 L658.3 59.98 L660.69 59.97 L663.08 59.96 L665.47 59.93 L667.86 59.9 L670.25 59.87 L672.64 59.83 L675.03 59.8 L677.42 59.78 L679.81 59.76 L682.2 59.76 M503 57.12 L505.16 57.04 L507.32 56.83 L509.48 56.48 L511.64 56.06 L513.8 55.58 L515.96 55.11 L518.12 54.68 L520.28 54.34 L522.44 54.12 L524.6 54.04 L527.61 53.82 L530.62 53.74 L533.63 53.78 L536.64 53.97 L539.65 54.26 L542.66 54.64 L545.67 55.08 L548.68 55.51 L551.69 55.91 L554.7 56.24 L557.09 56.22 L559.48 56.16 L561.87 56.06 L564.26 55.94 L566.65 55.8 L569.04 55.66 L571.43 55.54 L573.82 55.44 L576.21 55.38 L578.6 55.36 L581.49 55.39 L584.38 55.49 L587.27 55.63 L590.16 55.82 L593.05 56.02 L595.94 56.22 L598.83 56.41 L601.72 56.55 L604.61 56.65 L607.5 56.68 L609.74 56.68 L611.98 56.68 L614.22 56.68 L616.46 56.68 L618.7 56.68 L620.94 56.68 L623.18 56.68 L625.42 56.68 L627.66 56.68 L629.9 56.68 L632.74 56.73 L635.58 56.89 L638.42 57.13 L641.26 57.44 L644.1 57.78 L646.94 58.12 L649.78 58.42 L652.62 58.67 L655.46 58.82 L658.3 58.88 L660.69 58.88 L663.08 58.88 L665.47 58.88 L667.86 58.88 L670.25 58.88 L672.64 58.88 L675.03 58.88 L677.42 58.88 L679.81 58.88 L682.2 58.88 M503 53.6 L505.16 53.56 L507.32 53.43 L509.48 53.24 L511.64 52.99 L513.8 52.72 L515.96 52.45 L518.12 52.21 L520.28 52.01 L522.44 51.89 L524.6 51.84 L527.61 51.92 L530.62 52.14 L533.63 52.48 L536.64 52.91 L539.65 53.38 L542.66 53.86 L545.67 54.29 L548.68 54.63 L551.69 54.85 L554.7 54.92 L557.09 54.87 L559.48 54.71 L561.87 54.47 L564.26 54.16 L566.65 53.82 L569.04 53.48 L571.43 53.18 L573.82 52.93 L576.21 52.78 L578.6 52.72 L581.49 52.77 L584.38 52.89 L587.27 53.09 L590.16 53.33 L593.05 53.6 L595.94 53.87 L598.83 54.12 L601.72 54.31 L604.61 54.44 L607.5 54.48 L609.74 54.46 L611.98 54.4 L614.22 54.3 L616.46 54.18 L618.7 54.04 L620.94 53.91 L623.18 53.78 L625.42 53.69 L627.66 53.62 L629.9 53.6 L632.74 53.65 L635.58 53.77 L638.42 53.96 L641.26 54.21 L644.1 54.48 L646.94 54.75 L649.78 55 L652.62 55.19 L655.46 55.32 L658.3 55.36 L660.69 55.37 L663.08 55.4 L665.47 55.45 L667.86 55.51 L670.25 55.58 L672.64 55.65 L675.03 55.71 L677.42 55.76 L679.81 55.79 L682.2 55.8 M503 50.96 L505.16 50.92 L507.32 50.8 L509.48 50.6 L511.64 50.36 L513.8 50.09 L515.96 49.81 L518.12 49.57 L520.28 49.37 L522.44 49.25 L524.6 49.21 L527.61 49.27 L530.62 49.46 L533.63 49.75 L536.64 50.12 L539.65 50.53 L542.66 50.93 L545.67 51.3 L548.68 51.59 L551.69 51.78 L554.7 51.84 L557.09 51.85 L559.48 51.89 L561.87 51.93 L564.26 52 L566.65 52.06 L569.04 52.13 L571.43 52.19 L573.82 52.24 L576.21 52.27 L578.6 52.28 L581.49 52.24 L584.38 52.12 L587.27 51.92 L590.16 51.68 L593.05 51.4 L595.94 51.13 L598.83 50.89 L601.72 50.69 L604.61 50.57 L607.5 50.53 L609.74 50.56 L611.98 50.65 L614.22 50.8 L616.46 50.98 L618.7 51.18 L620.94 51.39 L623.18 51.57 L625.42 51.72 L627.66 51.81 L629.9 51.84 L632.74 51.84 L635.58 51.84 L638.42 51.84 L641.26 51.84 L644.1 51.84 L646.94 51.84 L649.78 51.84 L652.62 51.84 L655.46 51.84 L658.3 51.84 L660.69 51.81 L663.08 51.72 L665.47 51.57 L667.86 51.39 L670.25 51.18 L672.64 50.98 L675.03 50.8 L677.42 50.65 L679.81 50.56 L682.2 50.53 M503 48.33 L505.16 48.41 L507.32 48.66 L509.48 49.05 L511.64 49.54 L513.8 50.09 L515.96 50.63 L518.12 51.12 L520.28 51.51 L522.44 51.76 L524.6 51.84 L527.61 51.75 L530.62 51.47 L533.63 51.03 L536.64 50.48 L539.65 49.87 L542.66 49.25 L545.67 48.7 L548.68 48.27 L551.69 47.98 L554.7 47.89 L557.09 47.93 L559.48 48.06 L561.87 48.25 L564.26 48.5 L566.65 48.77 L569.04 49.04 L571.43 49.28 L573.82 49.48 L576.21 49.6 L578.6 49.65 L581.49 49.59 L584.38 49.44 L587.27 49.19 L590.16 48.89 L593.05 48.55 L595.94 48.21 L598.83 47.9 L601.72 47.66 L604.61 47.5 L607.5 47.45 L609.74 47.51 L611.98 47.7 L614.22 47.99 L616.46 48.36 L618.7 48.77 L620.94 49.17 L623.18 49.54 L625.42 49.83 L627.66 50.02 L629.9 50.09 L632.74 50.05 L635.58 49.96 L638.42 49.81 L641.26 49.63 L644.1 49.43 L646.94 49.22 L649.78 49.04 L652.62 48.89 L655.46 48.8 L658.3 48.77 L660.69 48.78 L663.08 48.81 L665.47 48.86 L667.86 48.92 L670.25 48.99 L672.64 49.05 L675.03 49.12 L677.42 49.16 L679.81 49.2 L682.2 49.21 M503 46.82 L505.16 46.52 L507.32 46.23 L509.48 45.96 L511.64 45.76 L513.8 45.62 L515.96 45.58 L518.12 45.63 L520.28 45.77 L522.44 45.99 L524.6 46.25 L527.61 45.57 L530.62 44.86 L533.63 44.19 L536.64 43.63 L539.65 43.23 L542.66 43.04 L545.67 43.06 L548.68 43.3 L551.69 43.74 L554.7 44.33 L557.09 45.27 L559.48 46.24 L561.87 47.14 L564.26 47.88 L566.65 48.4 L569.04 48.63 L571.43 48.56 L573.82 48.2 L576.21 47.57 L578.6 46.75 L581.49 47.17 L584.38 47.54 L587.27 47.82 L590.16 47.99 L593.05 48.02 L595.94 47.92 L598.83 47.69 L601.72 47.36 L604.61 46.96 L607.5 46.53 L609.74 47.41 L611.98 48.18 L614.22 48.77 L616.46 49.12 L618.7 49.2 L620.94 48.99 L623.18 48.52 L625.42 47.84 L627.66 47.01 L629.9 46.11 L632.74 45.49 L635.58 45.03 L638.42 44.78 L641.26 44.77 L644.1 44.99 L646.94 45.43 L649.78 46.03 L652.62 46.75 L655.46 47.51 L658.3 48.23 L660.69 47.77 L663.08 47.27 L665.47 46.78 L667.86 46.34 L670.25 46.01 L672.64 45.81 L675.03 45.76 L677.42 45.87 L679.81 46.13 L682.2 46.51 M503 41.89 L505.16 42.56 L507.32 43.18 L509.48 43.67 L511.64 43.99 L513.8 44.11 L515.96 44.02 L518.12 43.73 L520.28 43.25 L522.44 42.65 L524.6 41.98 L527.61 42.58 L530.62 43.2 L533.63 43.79 L536.64 44.27 L539.65 44.62 L542.66 44.78 L545.67 44.75 L548.68 44.53 L551.69 44.14 L554.7 43.62 L557.09 44.65 L559.48 45.58 L561.87 46.34 L564.26 46.83 L566.65 47.03 L569.04 46.9 L571.43 46.46 L573.82 45.75 L576.21 44.84 L578.6 43.82 L581.49 43.96 L584.38 44.2 L587.27 44.53 L590.16 44.9 L593.05 45.29 L595.94 45.65 L598.83 45.95 L601.72 46.16 L604.61 46.26 L607.5 46.24 L609.74 46.39 L611.98 46.56 L614.22 46.73 L616.46 46.9 L618.7 47.03 L620.94 47.13 L623.18 47.17 L625.42 47.17 L627.66 47.1 L629.9 46.99 L632.74 46.18 L635.58 45.32 L638.42 44.48 L641.26 43.77 L644.1 43.23 L646.94 42.93 L649.78 42.89 L652.62 43.13 L655.46 43.61 L658.3 44.28 L660.69 44.3 L663.08 44.44 L665.47 44.68 L667.86 45.01 L670.25 45.39 L672.64 45.77 L675.03 46.14 L677.42 46.44 L679.81 46.65 L682.2 46.76 M503 41.93 L505.16 42.31 L507.32 42.61 L509.48 42.8 L511.64 42.87 L513.8 42.8 L515.96 42.6 L518.12 42.3 L520.28 41.92 L522.44 41.49 L524.6 41.07 L527.61 41.69 L530.62 42.29 L533.63 42.83 L536.64 43.25 L539.65 43.51 L542.66 43.59 L545.67 43.47 L548.68 43.17 L551.69 42.71 L554.7 42.15 L557.09 42.64 L559.48 43.12 L561.87 43.55 L564.26 43.89 L566.65 44.11 L569.04 44.18 L571.43 44.1 L573.82 43.88 L576.21 43.53 L578.6 43.1 L581.49 43.94 L584.38 44.51 L587.27 44.76 L590.16 44.66 L593.05 44.22 L595.94 43.49 L598.83 42.53 L601.72 41.44 L604.61 40.33 L607.5 39.3 L609.74 38.73 L611.98 38.2 L614.22 37.79 L616.46 37.53 L618.7 37.44 L620.94 37.53 L623.18 37.8 L625.42 38.21 L627.66 38.73 L629.9 39.31 L632.74 39.55 L635.58 39.8 L638.42 40.05 L641.26 40.26 L644.1 40.42 L646.94 40.52 L649.78 40.53 L652.62 40.47 L655.46 40.33 L658.3 40.13 L660.69 39.4 L663.08 38.77 L665.47 38.31 L667.86 38.06 L670.25 38.05 L672.64 38.27 L675.03 38.72 L677.42 39.33 L679.81 40.06 L682.2 40.83 M503 37.16 L505.16 38.11 L507.32 38.99 L509.48 39.71 L511.64 40.22 L513.8 40.46 L515.96 40.4 L518.12 40.06 L520.28 39.46 L522.44 38.66 L524.6 37.75 L527.61 37.58 L530.62 37.64 L533.63 37.93 L536.64 38.43 L539.65 39.07 L542.66 39.81 L545.67 40.56 L548.68 41.25 L551.69 41.82 L554.7 42.22 L557.09 41.58 L559.48 40.96 L561.87 40.4 L564.26 39.97 L566.65 39.7 L569.04 39.63 L571.43 39.75 L573.82 40.07 L576.21 40.53 L578.6 41.11 L581.49 41.52 L584.38 41.71 L587.27 41.66 L590.16 41.38 L593.05 40.88 L595.94 40.23 L598.83 39.49 L601.72 38.72 L604.61 38.01 L607.5 37.42 L609.74 38.37 L611.98 39.35 L614.22 40.24 L616.46 40.98 L618.7 41.48 L620.94 41.7 L623.18 41.61 L625.42 41.22 L627.66 40.58 L629.9 39.74 L632.74 40.04 L635.58 40.17 L638.42 40.14 L641.26 39.93 L644.1 39.57 L646.94 39.1 L649.78 38.55 L652.62 38 L655.46 37.48 L658.3 37.05 L660.69 36.11 L663.08 35.42 L665.47 35.04 L667.86 35 L670.25 35.32 L672.64 35.96 L675.03 36.85 L677.42 37.91 L679.81 39.04 L682.2 40.12 M503 39.02 L505.16 39.68 L507.32 40.23 L509.48 40.64 L511.64 40.85 L513.8 40.86 L515.96 40.65 L518.12 40.24 L520.28 39.69 L522.44 39.03 L524.6 38.34 L527.61 37.86 L530.62 37.46 L533.63 37.18 L536.64 37.06 L539.65 37.09 L542.66 37.29 L545.67 37.63 L548.68 38.08 L551.69 38.59 L554.7 39.11 L557.09 39.92 L559.48 40.66 L561.87 41.25 L564.26 41.65 L566.65 41.81 L569.04 41.72 L571.43 41.38 L573.82 40.83 L576.21 40.12 L578.6 39.33 L581.49 38.92 L584.38 38.36 L587.27 37.71 L590.16 37.02 L593.05 36.37 L595.94 35.82 L598.83 35.42 L601.72 35.21 L604.61 35.22 L607.5 35.44 L609.74 36.35 L611.98 37.33 L614.22 38.29 L616.46 39.13 L618.7 39.77 L620.94 40.14 L623.18 40.21 L625.42 39.98 L627.66 39.46 L629.9 38.7 L632.74 38.83 L635.58 38.84 L638.42 38.74 L641.26 38.54 L644.1 38.26 L646.94 37.92 L649.78 37.56 L652.62 37.21 L655.46 36.91 L658.3 36.69 L660.69 37.33 L663.08 37.93 L665.47 38.45 L667.86 38.82 L670.25 39.01 L672.64 39 L675.03 38.79 L677.42 38.41 L679.81 37.89 L682.2 37.28 M503 32.24 L505.16 33.13 L507.32 33.98 L509.48 34.7 L511.64 35.22 L513.8 35.5 L515.96 35.5 L518.12 35.22 L520.28 34.7 L522.44 33.97 L524.6 33.13 L527.61 32.13 L530.62 31.36 L533.63 30.89 L536.64 30.76 L539.65 31 L542.66 31.58 L545.67 32.43 L548.68 33.49 L551.69 34.63 L554.7 35.76 L557.09 36.31 L559.48 36.65 L561.87 36.76 L564.26 36.62 L566.65 36.25 L569.04 35.67 L571.43 34.96 L573.82 34.18 L576.21 33.4 L578.6 32.7 L581.49 33.31 L584.38 34.04 L587.27 34.81 L590.16 35.54 L593.05 36.18 L595.94 36.64 L598.83 36.9 L601.72 36.91 L604.61 36.69 L607.5 36.25 L609.74 35.64 L611.98 35.03 L614.22 34.5 L616.46 34.1 L618.7 33.85 L620.94 33.8 L623.18 33.93 L625.42 34.25 L627.66 34.72 L629.9 35.29 L632.74 35.6 L635.58 35.76 L638.42 35.76 L641.26 35.59 L644.1 35.28 L646.94 34.84 L649.78 34.33 L652.62 33.8 L655.46 33.29 L658.3 32.86 L660.69 33.33 L663.08 33.81 L665.47 34.25 L667.86 34.61 L670.25 34.85 L672.64 34.95 L675.03 34.91 L677.42 34.71 L679.81 34.4 L682.2 33.98 M503 34.74 L505.16 34.51 L507.32 34.18 L509.48 33.78 L511.64 33.34 L513.8 32.91 L515.96 32.54 L518.12 32.25 L520.28 32.08 L522.44 32.04 L524.6 32.14 L527.61 31.38 L530.62 30.79 L533.63 30.42 L536.64 30.3 L539.65 30.45 L542.66 30.86 L545.67 31.47 L548.68 32.24 L551.69 33.09 L554.7 33.93 L557.09 34.57 L559.48 35.06 L561.87 35.34 L564.26 35.4 L566.65 35.21 L569.04 34.81 L571.43 34.23 L573.82 33.53 L576.21 32.77 L578.6 32.04 L581.49 32.82 L584.38 33.58 L587.27 34.26 L590.16 34.77 L593.05 35.08 L595.94 35.14 L598.83 34.97 L601.72 34.56 L604.61 33.97 L607.5 33.25 L609.74 32.35 L611.98 31.52 L614.22 30.84 L616.46 30.37 L618.7 30.16 L620.94 30.24 L623.18 30.58 L625.42 31.17 L627.66 31.94 L629.9 32.82 L632.74 32.06 L635.58 31.25 L638.42 30.46 L641.26 29.77 L644.1 29.25 L646.94 28.95 L649.78 28.89 L652.62 29.09 L655.46 29.53 L658.3 30.15 L660.69 30.76 L663.08 31.43 L665.47 32.09 L667.86 32.69 L670.25 33.17 L672.64 33.47 L675.03 33.57 L677.42 33.45 L679.81 33.14 L682.2 32.66 M503 29.08 L505.16 30.06 L507.32 30.89 L509.48 31.49 L511.64 31.8 L513.8 31.8 L515.96 31.47 L518.12 30.87 L520.28 30.03 L522.44 29.05 L524.6 28.02 L527.61 27.11 L530.62 26.48 L533.63 26.2 L536.64 26.28 L539.65 26.73 L542.66 27.5 L545.67 28.51 L548.68 29.66 L551.69 30.84 L554.7 31.95 L557.09 32.42 L559.48 32.65 L561.87 32.62 L564.26 32.32 L566.65 31.8 L569.04 31.09 L571.43 30.28 L573.82 29.43 L576.21 28.64 L578.6 27.97 L581.49 27.54 L584.38 27.16 L587.27 26.88 L590.16 26.73 L593.05 26.71 L595.94 26.84 L598.83 27.09 L601.72 27.45 L604.61 27.88 L607.5 28.33 L609.74 28.89 L611.98 29.47 L614.22 30.02 L616.46 30.46 L618.7 30.77 L620.94 30.92 L623.18 30.88 L625.42 30.66 L627.66 30.29 L629.9 29.8 L632.74 29.12 L635.58 28.55 L638.42 28.16 L641.26 27.97 L644.1 28 L646.94 28.26 L649.78 28.72 L652.62 29.33 L655.46 30.03 L658.3 30.76 L660.69 30.59 L663.08 30.52 L665.47 30.56 L667.86 30.69 L670.25 30.92 L672.64 31.21 L675.03 31.54 L677.42 31.88 L679.81 32.19 L682.2 32.44 M503 29.77 L505.16 28.79 L507.32 27.77 L509.48 26.8 L511.64 25.98 L513.8 25.39 L515.96 25.09 L518.12 25.11 L520.28 25.44 L522.44 26.06 L524.6 26.89 L527.61 27.62 L530.62 28.44 L533.63 29.29 L536.64 30.06 L539.65 30.69 L542.66 31.12 L545.67 31.31 L548.68 31.23 L551.69 30.89 L554.7 30.33 L557.09 31.36 L559.48 32.25 L561.87 32.91 L564.26 33.27 L566.65 33.31 L569.04 33.01 L571.43 32.41 L573.82 31.57 L576.21 30.56 L578.6 29.49 L581.49 29.95 L584.38 30.28 L587.27 30.44 L590.16 30.43 L593.05 30.24 L595.94 29.89 L598.83 29.42 L601.72 28.86 L604.61 28.29 L607.5 27.74 L609.74 27.82 L611.98 27.82 L614.22 27.73 L616.46 27.57 L618.7 27.35 L620.94 27.09 L623.18 26.82 L625.42 26.57 L627.66 26.35 L629.9 26.2 L632.74 27.18 L635.58 28.13 L638.42 28.96 L641.26 29.57 L644.1 29.92 L646.94 29.96 L649.78 29.69 L652.62 29.15 L655.46 28.38 L658.3 27.45 L660.69 28.2 L663.08 28.96 L665.47 29.66 L667.86 30.23 L670.25 30.61 L672.64 30.77 L675.03 30.69 L677.42 30.38 L679.81 29.88 L682.2 29.21 M503 25.34 L505.16 26.18 L507.32 27.05 L509.48 27.86 L511.64 28.55 L513.8 29.03 L515.96 29.26 L518.12 29.23 L520.28 28.93 L522.44 28.39 L524.6 27.66 L527.61 28.64 L530.62 29.47 L533.63 30.06 L536.64 30.35 L539.65 30.32 L542.66 29.98 L545.67 29.34 L548.68 28.48 L551.69 27.49 L554.7 26.45 L557.09 27.43 L559.48 28.17 L561.87 28.61 L564.26 28.71 L566.65 28.44 L569.04 27.84 L571.43 26.97 L573.82 25.92 L576.21 24.77 L578.6 23.66 L581.49 22.75 L584.38 21.91 L587.27 21.22 L590.16 20.75 L593.05 20.53 L595.94 20.6 L598.83 20.95 L601.72 21.53 L604.61 22.3 L607.5 23.18 L609.74 22.79 L611.98 22.52 L614.22 22.39 L616.46 22.43 L618.7 22.62 L620.94 22.96 L623.18 23.4 L625.42 23.9 L627.66 24.41 L629.9 24.89 L632.74 23.88 L635.58 22.96 L638.42 22.22 L641.26 21.73 L644.1 21.55 L646.94 21.68 L649.78 22.11 L652.62 22.81 L655.46 23.71 L658.3 24.71 L660.69 25.76 L663.08 26.74 L665.47 27.55 L667.86 28.11 L670.25 28.36 L672.64 28.28 L675.03 27.88 L677.42 27.2 L679.81 26.3 L682.2 25.27 M503 23.31 L505.16 22.76 L507.32 22.21 L509.48 21.69 L511.64 21.27 L513.8 20.99 L515.96 20.87 L518.12 20.92 L520.28 21.15 L522.44 21.52 L524.6 22 L527.61 21.61 L530.62 21.37 L533.63 21.29 L536.64 21.39 L539.65 21.65 L542.66 22.06 L545.67 22.57 L548.68 23.12 L551.69 23.68 L554.7 24.17 L557.09 23.45 L559.48 22.62 L561.87 21.76 L564.26 20.97 L566.65 20.31 L569.04 19.86 L571.43 19.65 L573.82 19.71 L576.21 20.03 L578.6 20.58 L581.49 19.8 L584.38 19.33 L587.27 19.23 L590.16 19.49 L593.05 20.1 L595.94 21 L598.83 22.09 L601.72 23.28 L604.61 24.44 L607.5 25.46 L609.74 25.72 L611.98 25.83 L614.22 25.79 L616.46 25.59 L618.7 25.26 L620.94 24.82 L623.18 24.33 L625.42 23.82 L627.66 23.36 L629.9 22.97 L632.74 22.55 L635.58 22.11 L638.42 21.71 L641.26 21.39 L644.1 21.17 L646.94 21.08 L649.78 21.12 L652.62 21.3 L655.46 21.59 L658.3 21.97 L660.69 21.07 L663.08 20.23 L665.47 19.51 L667.86 18.99 L670.25 18.72 L672.64 18.72 L675.03 19 L677.42 19.53 L679.81 20.26 L682.2 21.11 M503 20.19 L505.16 20.2 L507.32 20.23 L509.48 20.28 L511.64 20.34 L513.8 20.41 L515.96 20.48 L518.12 20.54 L520.28 20.59 L522.44 20.62 L524.6 20.63 L527.61 20.14 L530.62 19.64 L533.63 19.21 L536.64 18.87 L539.65 18.65 L542.66 18.59 L545.67 18.69 L548.68 18.93 L551.69 19.3 L554.7 19.75 L557.09 19.46 L559.48 19.15 L561.87 18.86 L564.26 18.61 L566.65 18.43 L569.04 18.46 L571.43 18.46 L573.82 18.44 L576.21 18.62 L578.6 18.87 L581.49 18.91 L584.38 19 L587.27 19.15 L590.16 19.33 L593.05 19.53 L595.94 19.74 L598.83 19.92 L601.72 20.07 L604.61 20.16 L607.5 20.19 L609.74 20.21 L611.98 20.28 L614.22 20.37 L616.46 20.5 L618.7 20.63 L620.94 20.77 L623.18 20.89 L625.42 20.99 L627.66 21.05 L629.9 21.07 L632.74 20.61 L635.58 20.09 L638.42 19.55 L641.26 19.06 L644.1 18.65 L646.94 18.45 L649.78 18.49 L652.62 18.47 L655.46 18.52 L658.3 18.87 L660.69 18.92 L663.08 19.04 L665.47 19.24 L667.86 19.48 L670.25 19.75 L672.64 20.02 L675.03 20.27 L677.42 20.46 L679.81 20.59 L682.2 20.63 M503 100.2 L505.16 100.2 L507.32 100.2 L509.48 100.2 L511.64 100.2 L513.8 100.2 L515.96 100.2 L518.12 100.2 L520.28 100.2 L522.44 100.2 L524.6 100.2 L527.61 100.21 L530.62 100.22 L533.63 100.25 L536.64 100.28 L539.65 100.31 L542.66 100.34 L545.67 100.37 L548.68 100.4 L551.69 100.41 L554.7 100.42 L557.09 100.41 L559.48 100.4 L561.87 100.37 L564.26 100.34 L566.65 100.31 L569.04 100.28 L571.43 100.25 L573.82 100.22 L576.21 100.21 L578.6 100.2 L581.49 100.21 L584.38 100.24 L587.27 100.29 L590.16 100.35 L593.05 100.42 L595.94 100.49 L598.83 100.55 L601.72 100.6 L604.61 100.63 L607.5 100.64 L609.74 100.63 L611.98 100.6 L614.22 100.55 L616.46 100.49 L618.7 100.42 L620.94 100.35 L623.18 100.29 L625.42 100.24 L627.66 100.21 L629.9 100.2 L632.74 100.21 L635.58 100.22 L638.42 100.25 L641.26 100.28 L644.1 100.31 L646.94 100.34 L649.78 100.37 L652.62 100.4 L655.46 100.41 L658.3 100.42 L660.69 100.41 L663.08 100.4 L665.47 100.37 L667.86 100.34 L670.25 100.31 L672.64 100.28 L675.03 100.25 L677.42 100.22 L679.81 100.21 L682.2 100.2 M503 101.55 L505.16 101.93 L507.32 102.2 L509.48 102.36 L511.64 102.39 L513.8 102.27 L515.96 102.03 L518.12 101.69 L520.28 101.27 L522.44 100.83 L524.6 100.4 L527.61 100.27 L530.62 100.13 L533.63 100.01 L536.64 99.92 L539.65 99.86 L542.66 99.85 L545.67 99.88 L548.68 99.95 L551.69 100.05 L554.7 100.18 L557.09 99.73 L559.48 99.37 L561.87 99.14 L564.26 99.05 L566.65 99.11 L569.04 99.32 L571.43 99.66 L573.82 100.1 L576.21 100.58 L578.6 101.07 L581.49 100.71 L584.38 100.37 L587.27 100.1 L590.16 99.91 L593.05 99.83 L595.94 99.86 L598.83 100 L601.72 100.24 L604.61 100.56 L607.5 100.91 L609.74 100.72 L611.98 100.57 L614.22 100.5 L616.46 100.5 L618.7 100.59 L620.94 100.74 L623.18 100.94 L625.42 101.18 L627.66 101.43 L629.9 101.66 L632.74 101.75 L635.58 101.8 L638.42 101.81 L641.26 101.77 L644.1 101.7 L646.94 101.58 L649.78 101.45 L652.62 101.31 L655.46 101.17 L658.3 101.04 L660.69 100.82 L663.08 100.61 L665.47 100.44 L667.86 100.33 L670.25 100.28 L672.64 100.3 L675.03 100.4 L677.42 100.55 L679.81 100.74 L682.2 100.96 M503 102.59 L505.16 102.86 L507.32 103.12 L509.48 103.35 L511.64 103.53 L513.8 103.63 L515.96 103.66 L518.12 103.6 L520.28 103.47 L522.44 103.27 L524.6 103.02 L527.61 102.8 L530.62 102.54 L533.63 102.27 L536.64 102.02 L539.65 101.8 L542.66 101.64 L545.67 101.55 L548.68 101.55 L551.69 101.64 L554.7 101.8 L557.09 101.86 L559.48 102.02 L561.87 102.28 L564.26 102.61 L566.65 102.97 L569.04 103.32 L571.43 103.65 L573.82 103.9 L576.21 104.06 L578.6 104.12 L581.49 103.96 L584.38 103.72 L587.27 103.41 L590.16 103.07 L593.05 102.74 L595.94 102.44 L598.83 102.21 L601.72 102.06 L604.61 102.01 L607.5 102.07 L609.74 101.72 L611.98 101.52 L614.22 101.48 L616.46 101.6 L618.7 101.88 L620.94 102.29 L623.18 102.78 L625.42 103.31 L627.66 103.83 L629.9 104.28 L632.74 104.47 L635.58 104.56 L638.42 104.53 L641.26 104.39 L644.1 104.16 L646.94 103.85 L649.78 103.5 L652.62 103.14 L655.46 102.8 L658.3 102.53 L660.69 103 L663.08 103.45 L665.47 103.82 L667.86 104.08 L670.25 104.21 L672.64 104.2 L675.03 104.04 L677.42 103.74 L679.81 103.35 L682.2 102.9 M503 104.99 L505.16 105.12 L507.32 105.19 L509.48 105.18 L511.64 105.09 L513.8 104.94 L515.96 104.74 L518.12 104.5 L520.28 104.25 L522.44 104.02 L524.6 103.83 L527.61 103.71 L530.62 103.67 L533.63 103.72 L536.64 103.85 L539.65 104.05 L542.66 104.3 L545.67 104.58 L548.68 104.85 L551.69 105.1 L554.7 105.29 L557.09 105.58 L559.48 105.85 L561.87 106.06 L564.26 106.21 L566.65 106.27 L569.04 106.24 L571.43 106.12 L573.82 105.93 L576.21 105.68 L578.6 105.39 L581.49 105.4 L584.38 105.3 L587.27 105.1 L590.16 104.81 L593.05 104.47 L595.94 104.11 L598.83 103.77 L601.72 103.47 L604.61 103.25 L607.5 103.13 L609.74 102.86 L611.98 102.65 L614.22 102.52 L616.46 102.49 L618.7 102.56 L620.94 102.73 L623.18 102.97 L625.42 103.26 L627.66 103.57 L629.9 103.88 L632.74 103.51 L635.58 103.2 L638.42 102.99 L641.26 102.9 L644.1 102.94 L646.94 103.11 L649.78 103.39 L652.62 103.74 L655.46 104.14 L658.3 104.55 L660.69 104.16 L663.08 103.73 L665.47 103.32 L667.86 102.96 L670.25 102.69 L672.64 102.54 L675.03 102.51 L677.42 102.62 L679.81 102.84 L682.2 103.17 M503 106.27 L505.16 105.83 L507.32 105.4 L509.48 105.02 L511.64 104.74 L513.8 104.58 L515.96 104.55 L518.12 104.66 L520.28 104.9 L522.44 105.25 L524.6 105.66 L527.61 105.89 L530.62 106.14 L533.63 106.38 L536.64 106.6 L539.65 106.76 L542.66 106.85 L545.67 106.87 L548.68 106.8 L551.69 106.67 L554.7 106.48 L557.09 106.81 L559.48 107.13 L561.87 107.42 L564.26 107.64 L566.65 107.78 L569.04 107.81 L571.43 107.74 L573.82 107.58 L576.21 107.34 L578.6 107.03 L581.49 107.05 L584.38 107.02 L587.27 106.93 L590.16 106.8 L593.05 106.63 L595.94 106.45 L598.83 106.28 L601.72 106.12 L604.61 106 L607.5 105.93 L609.74 106.11 L611.98 106.23 L614.22 106.27 L616.46 106.22 L618.7 106.09 L620.94 105.9 L623.18 105.65 L625.42 105.38 L627.66 105.12 L629.9 104.88 L632.74 105.15 L635.58 105.39 L638.42 105.58 L641.26 105.7 L644.1 105.74 L646.94 105.69 L649.78 105.56 L652.62 105.36 L655.46 105.11 L658.3 104.84 L660.69 104.93 L663.08 105.04 L665.47 105.14 L667.86 105.24 L670.25 105.32 L672.64 105.37 L675.03 105.39 L677.42 105.38 L679.81 105.34 L682.2 105.26 M503 107.07 L505.16 106.72 L507.32 106.43 L509.48 106.22 L511.64 106.12 L513.8 106.12 L515.96 106.24 L518.12 106.46 L520.28 106.76 L522.44 107.11 L524.6 107.47 L527.61 107.92 L530.62 108.35 L533.63 108.73 L536.64 109 L539.65 109.16 L542.66 109.17 L545.67 109.05 L548.68 108.8 L551.69 108.44 L554.7 108.02 L557.09 107.78 L559.48 107.49 L561.87 107.17 L564.26 106.85 L566.65 106.57 L569.04 106.36 L571.43 106.22 L573.82 106.19 L576.21 106.25 L578.6 106.41 L581.49 106.33 L584.38 106.24 L587.27 106.14 L590.16 106.05 L593.05 105.97 L595.94 105.92 L598.83 105.89 L601.72 105.88 L604.61 105.91 L607.5 105.97 L609.74 106.19 L611.98 106.47 L614.22 106.78 L616.46 107.09 L618.7 107.37 L620.94 107.6 L623.18 107.74 L625.42 107.79 L627.66 107.74 L629.9 107.6 L632.74 107.35 L635.58 107.18 L638.42 107.11 L641.26 107.15 L644.1 107.28 L646.94 107.51 L649.78 107.8 L652.62 108.12 L655.46 108.46 L658.3 108.76 L660.69 109.22 L663.08 109.64 L665.47 109.99 L667.86 110.22 L670.25 110.31 L672.64 110.26 L675.03 110.06 L677.42 109.75 L679.81 109.35 L682.2 108.9 M503 110.11 L505.16 110.14 L507.32 110.12 L509.48 110.04 L511.64 109.93 L513.8 109.79 L515.96 109.63 L518.12 109.47 L520.28 109.32 L522.44 109.21 L524.6 109.13 L527.61 109.04 L530.62 109.02 L533.63 109.08 L536.64 109.21 L539.65 109.39 L542.66 109.62 L545.67 109.86 L548.68 110.09 L551.69 110.3 L554.7 110.45 L557.09 110.25 L559.48 109.94 L561.87 109.56 L564.26 109.14 L566.65 108.74 L569.04 108.38 L571.43 108.1 L573.82 107.93 L576.21 107.89 L578.6 107.98 L581.49 107.73 L584.38 107.6 L587.27 107.59 L590.16 107.71 L593.05 107.94 L595.94 108.27 L598.83 108.66 L601.72 109.07 L604.61 109.46 L607.5 109.8 L609.74 109.37 L611.98 109 L614.22 108.72 L616.46 108.56 L618.7 108.54 L620.94 108.65 L623.18 108.89 L625.42 109.24 L627.66 109.65 L629.9 110.1 L632.74 109.93 L635.58 109.79 L638.42 109.7 L641.26 109.66 L644.1 109.67 L646.94 109.75 L649.78 109.87 L652.62 110.02 L655.46 110.2 L658.3 110.39 L660.69 110.63 L663.08 110.76 L665.47 110.77 L667.86 110.65 L670.25 110.42 L672.64 110.09 L675.03 109.71 L677.42 109.31 L679.81 108.92 L682.2 108.59 M503 110.39 L505.16 110.22 L507.32 110.12 L509.48 110.08 L511.64 110.13 L513.8 110.24 L515.96 110.41 L518.12 110.62 L520.28 110.86 L522.44 111.09 L524.6 111.3 L527.61 111.29 L530.62 111.31 L533.63 111.36 L536.64 111.42 L539.65 111.5 L542.66 111.58 L545.67 111.66 L548.68 111.73 L551.69 111.78 L554.7 111.82 L557.09 111.67 L559.48 111.47 L561.87 111.24 L564.26 110.99 L566.65 110.75 L569.04 110.55 L571.43 110.4 L573.82 110.32 L576.21 110.32 L578.6 110.4 L581.49 110.13 L584.38 109.86 L587.27 109.61 L590.16 109.39 L593.05 109.24 L595.94 109.16 L598.83 109.17 L601.72 109.26 L604.61 109.43 L607.5 109.65 L609.74 109.79 L611.98 110 L614.22 110.26 L616.46 110.53 L618.7 110.8 L620.94 111.04 L623.18 111.22 L625.42 111.33 L627.66 111.36 L629.9 111.3 L632.74 111.01 L635.58 110.74 L638.42 110.51 L641.26 110.34 L644.1 110.26 L646.94 110.26 L649.78 110.34 L652.62 110.51 L655.46 110.74 L658.3 111.01 L660.69 110.62 L663.08 110.25 L665.47 109.95 L667.86 109.74 L670.25 109.65 L672.64 109.67 L675.03 109.82 L677.42 110.07 L679.81 110.4 L682.2 110.79 M503 116.78 L505.16 116.62 L507.32 116.32 L509.48 115.89 L511.64 115.39 L513.8 114.87 L515.96 114.36 L518.12 113.93 L520.28 113.61 L522.44 113.44 L524.6 113.43 L527.61 113.04 L530.62 112.73 L533.63 112.53 L536.64 112.45 L539.65 112.52 L542.66 112.71 L545.67 113.02 L548.68 113.4 L551.69 113.83 L554.7 114.27 L557.09 114 L559.48 113.88 L561.87 113.91 L564.26 114.08 L566.65 114.39 L569.04 114.81 L571.43 115.28 L573.82 115.77 L576.21 116.23 L578.6 116.61 L581.49 116.1 L584.38 115.57 L587.27 115.08 L590.16 114.68 L593.05 114.41 L595.94 114.29 L598.83 114.33 L601.72 114.53 L604.61 114.88 L607.5 115.33 L609.74 115.35 L611.98 115.34 L614.22 115.29 L616.46 115.22 L618.7 115.12 L620.94 115.01 L623.18 114.89 L625.42 114.79 L627.66 114.71 L629.9 114.65 L632.74 114.46 L635.58 114.23 L638.42 113.99 L641.26 113.75 L644.1 113.55 L646.94 113.41 L649.78 113.33 L652.62 113.32 L655.46 113.39 L658.3 113.52 L660.69 113.9 L663.08 114.34 L665.47 114.8 L667.86 115.24 L670.25 115.62 L672.64 115.89 L675.03 116.04 L677.42 116.04 L679.81 115.9 L682.2 115.63 M503 115.59 L505.16 115.54 L507.32 115.47 L509.48 115.4 L511.64 115.33 L513.8 115.27 L515.96 115.21 L518.12 115.18 L520.28 115.17 L522.44 115.17 L524.6 115.21 L527.61 114.91 L530.62 114.67 L533.63 114.52 L536.64 114.47 L539.65 114.53 L542.66 114.69 L545.67 114.93 L548.68 115.24 L551.69 115.57 L554.7 115.9 L557.09 116.09 L559.48 116.25 L561.87 116.35 L564.26 116.4 L566.65 116.39 L569.04 116.31 L571.43 116.18 L573.82 116 L576.21 115.81 L578.6 115.6 L581.49 115.21 L584.38 114.95 L587.27 114.85 L590.16 114.92 L593.05 115.16 L595.94 115.54 L598.83 116.02 L601.72 116.56 L604.61 117.11 L607.5 117.6 L609.74 117.15 L611.98 116.6 L614.22 116.03 L616.46 115.47 L618.7 114.99 L620.94 114.63 L623.18 114.43 L625.42 114.41 L627.66 114.56 L629.9 114.88 L632.74 115.04 L635.58 115.17 L638.42 115.25 L641.26 115.28 L644.1 115.26 L646.94 115.18 L649.78 115.06 L652.62 114.91 L655.46 114.74 L658.3 114.56 L660.69 115.02 L663.08 115.43 L665.47 115.75 L667.86 115.96 L670.25 116.04 L672.64 115.97 L675.03 115.76 L677.42 115.44 L679.81 115.03 L682.2 114.58 M503 118.02 L505.16 118.36 L507.32 118.65 L509.48 118.86 L511.64 118.96 L513.8 118.95 L515.96 118.83 L518.12 118.6 L520.28 118.3 L522.44 117.95 L524.6 117.58 L527.61 117.74 L530.62 117.84 L533.63 117.88 L536.64 117.84 L539.65 117.73 L542.66 117.57 L545.67 117.37 L548.68 117.15 L551.69 116.92 L554.7 116.72 L557.09 116.44 L559.48 116.23 L561.87 116.13 L564.26 116.14 L566.65 116.27 L569.04 116.49 L571.43 116.79 L573.82 117.13 L576.21 117.49 L578.6 117.83 L581.49 118.27 L584.38 118.75 L587.27 119.23 L590.16 119.66 L593.05 120.01 L595.94 120.22 L598.83 120.3 L601.72 120.22 L604.61 120 L607.5 119.65 L609.74 119.96 L611.98 120.08 L614.22 120.01 L616.46 119.76 L618.7 119.34 L620.94 118.8 L623.18 118.2 L625.42 117.58 L627.66 117.02 L629.9 116.56 L632.74 116.62 L635.58 116.81 L638.42 117.12 L641.26 117.52 L644.1 117.98 L646.94 118.44 L649.78 118.85 L652.62 119.19 L655.46 119.42 L658.3 119.51 L660.69 119.19 L663.08 118.77 L665.47 118.27 L667.86 117.76 L670.25 117.27 L672.64 116.86 L675.03 116.56 L677.42 116.41 L679.81 116.43 L682.2 116.6 M503 117.76 L505.16 118 L507.32 118.25 L509.48 118.48 L511.64 118.67 L513.8 118.79 L515.96 118.85 L518.12 118.83 L520.28 118.73 L522.44 118.57 L524.6 118.35 L527.61 118.08 L530.62 117.78 L533.63 117.49 L536.64 117.24 L539.65 117.04 L542.66 116.92 L545.67 116.9 L548.68 116.96 L551.69 117.12 L554.7 117.34 L557.09 117.23 L559.48 117.22 L561.87 117.31 L564.26 117.49 L566.65 117.75 L569.04 118.05 L571.43 118.37 L573.82 118.67 L576.21 118.94 L578.6 119.13 L581.49 119.06 L584.38 118.91 L587.27 118.7 L590.16 118.43 L593.05 118.15 L595.94 117.87 L598.83 117.63 L601.72 117.45 L604.61 117.35 L607.5 117.33 L609.74 117.04 L611.98 116.94 L614.22 117.05 L616.46 117.36 L618.7 117.82 L620.94 118.41 L623.18 119.06 L625.42 119.7 L627.66 120.28 L629.9 120.74 L632.74 120.66 L635.58 120.57 L638.42 120.46 L641.26 120.36 L644.1 120.26 L646.94 120.19 L649.78 120.14 L652.62 120.13 L655.46 120.15 L658.3 120.2 L660.69 120.38 L663.08 120.48 L665.47 120.49 L667.86 120.42 L670.25 120.26 L672.64 120.04 L675.03 119.78 L677.42 119.5 L679.81 119.23 L682.2 119 M503 120.89 L505.16 121.17 L507.32 121.33 L509.48 121.36 L511.64 121.26 L513.8 121.03 L515.96 120.69 L518.12 120.28 L520.28 119.85 L522.44 119.43 L524.6 119.06 L527.61 119.01 L530.62 118.96 L533.63 118.91 L536.64 118.86 L539.65 118.82 L542.66 118.79 L545.67 118.78 L548.68 118.78 L551.69 118.8 L554.7 118.84 L557.09 118.9 L559.48 119.09 L561.87 119.39 L564.26 119.77 L566.65 120.2 L569.04 120.62 L571.43 121 L573.82 121.31 L576.21 121.51 L578.6 121.58 L581.49 121.4 L584.38 121.12 L587.27 120.75 L590.16 120.35 L593.05 119.93 L595.94 119.56 L598.83 119.26 L601.72 119.06 L604.61 118.98 L607.5 119.03 L609.74 119.54 L611.98 119.97 L614.22 120.28 L616.46 120.45 L618.7 120.46 L620.94 120.31 L623.18 120.01 L625.42 119.59 L627.66 119.09 L629.9 118.57 L632.74 118.1 L635.58 117.77 L638.42 117.59 L641.26 117.61 L644.1 117.8 L646.94 118.15 L649.78 118.63 L652.62 119.19 L655.46 119.77 L658.3 120.33 L660.69 120.3 L663.08 120.27 L665.47 120.24 L667.86 120.21 L670.25 120.17 L672.64 120.15 L675.03 120.13 L677.42 120.12 L679.81 120.12 L682.2 120.13 M503 122.13 L505.16 121.6 L507.32 121.04 L509.48 120.51 L511.64 120.06 L513.8 119.73 L515.96 119.57 L518.12 119.58 L520.28 119.76 L522.44 120.09 L524.6 120.55 L527.61 120.11 L530.62 119.76 L533.63 119.54 L536.64 119.46 L539.65 119.53 L542.66 119.75 L545.67 120.09 L548.68 120.53 L551.69 121.01 L554.7 121.49 L557.09 121.75 L559.48 122 L561.87 122.21 L564.26 122.36 L566.65 122.45 L569.04 122.45 L571.43 122.37 L573.82 122.23 L576.21 122.02 L578.6 121.78 L581.49 121.79 L584.38 121.76 L587.27 121.69 L590.16 121.59 L593.05 121.47 L595.94 121.35 L598.83 121.22 L601.72 121.12 L604.61 121.03 L607.5 120.98 L609.74 121.45 L611.98 121.99 L614.22 122.56 L616.46 123.09 L618.7 123.53 L620.94 123.85 L623.18 124.01 L625.42 123.99 L627.66 123.8 L629.9 123.46 L632.74 123.48 L635.58 123.42 L638.42 123.26 L641.26 123.03 L644.1 122.76 L646.94 122.46 L649.78 122.16 L652.62 121.9 L655.46 121.71 L658.3 121.59 L660.69 121.26 L663.08 120.98 L665.47 120.79 L667.86 120.7 L670.25 120.72 L672.64 120.85 L675.03 121.08 L677.42 121.38 L679.81 121.73 L682.2 122.08 M503 121.47 L505.16 122.03 L507.32 122.62 L509.48 123.18 L511.64 123.65 L513.8 123.99 L515.96 124.17 L518.12 124.16 L520.28 123.98 L522.44 123.63 L524.6 123.15 L527.61 123.5 L530.62 123.84 L533.63 124.15 L536.64 124.39 L539.65 124.54 L542.66 124.59 L545.67 124.52 L548.68 124.35 L551.69 124.1 L554.7 123.78 L557.09 124.09 L559.48 124.39 L561.87 124.66 L564.26 124.87 L566.65 124.99 L569.04 125.02 L571.43 124.95 L573.82 124.8 L576.21 124.56 L578.6 124.28 L581.49 124.04 L584.38 123.73 L587.27 123.4 L590.16 123.07 L593.05 122.78 L595.94 122.55 L598.83 122.41 L601.72 122.37 L604.61 122.43 L607.5 122.59 L609.74 122.76 L611.98 122.84 L614.22 122.85 L616.46 122.77 L618.7 122.61 L620.94 122.39 L623.18 122.13 L625.42 121.86 L627.66 121.6 L629.9 121.38 L632.74 121.61 L635.58 121.98 L638.42 122.44 L641.26 122.95 L644.1 123.46 L646.94 123.92 L649.78 124.29 L652.62 124.52 L655.46 124.61 L658.3 124.53 L660.69 124.33 L663.08 124.03 L665.47 123.65 L667.86 123.24 L670.25 122.82 L672.64 122.44 L675.03 122.14 L677.42 121.95 L679.81 121.89 L682.2 121.95 M503 129.21 L505.16 129.21 L507.32 129.21 L509.48 129.21 L511.64 129.21 L513.8 129.21 L515.96 129.21 L518.12 129.21 L520.28 129.21 L522.44 129.21 L524.6 129.21 L527.61 129.29 L530.62 129.51 L533.63 129.85 L536.64 130.28 L539.65 130.75 L542.66 131.23 L545.67 131.66 L548.68 132 L551.69 132.22 L554.7 132.29 L557.09 132.29 L559.48 132.29 L561.87 132.29 L564.26 132.29 L566.65 132.29 L569.04 132.29 L571.43 132.29 L573.82 132.29 L576.21 132.29 L578.6 132.29 L581.49 132.22 L584.38 132 L587.27 131.66 L590.16 131.23 L593.05 130.75 L595.94 130.28 L598.83 129.85 L601.72 129.51 L604.61 129.29 L607.5 129.21 L609.74 129.29 L611.98 129.51 L614.22 129.85 L616.46 130.28 L618.7 130.75 L620.94 131.23 L623.18 131.66 L625.42 132 L627.66 132.22 L629.9 132.29 L632.74 132.29 L635.58 132.29 L638.42 132.29 L641.26 132.29 L644.1 132.29 L646.94 132.29 L649.78 132.29 L652.62 132.29 L655.46 132.29 L658.3 132.29 L660.69 132.29 L663.08 132.29 L665.47 132.29 L667.86 132.29 L670.25 132.29 L672.64 132.29 L675.03 132.29 L677.42 132.29 L679.81 132.29 L682.2 132.29 M503 137.57 L505.16 137.57 L507.32 137.57 L509.48 137.57 L511.64 137.57 L513.8 137.57 L515.96 137.57 L518.12 137.57 L520.28 137.57 L522.44 137.57 L524.6 137.57 L527.61 137.44 L530.62 137.06 L533.63 136.48 L536.64 135.74 L539.65 134.93 L542.66 134.11 L545.67 133.38 L548.68 132.79 L551.69 132.42 L554.7 132.29 L557.09 132.29 L559.48 132.29 L561.87 132.29 L564.26 132.29 L566.65 132.29 L569.04 132.29 L571.43 132.29 L573.82 132.29 L576.21 132.29 L578.6 132.29 L581.49 132.43 L584.38 132.84 L587.27 133.47 L590.16 134.27 L593.05 135.15 L595.94 136.03 L598.83 136.83 L601.72 137.46 L604.61 137.87 L607.5 138.01 L609.74 137.87 L611.98 137.46 L614.22 136.83 L616.46 136.03 L618.7 135.15 L620.94 134.27 L623.18 133.47 L625.42 132.84 L627.66 132.43 L629.9 132.29 L632.74 132.29 L635.58 132.29 L638.42 132.29 L641.26 132.29 L644.1 132.29 L646.94 132.29 L649.78 132.29 L652.62 132.29 L655.46 132.29 L658.3 132.29 L660.69 132.29 L663.08 132.29 L665.47 132.29 L667.86 132.29 L670.25 132.29 L672.64 132.29 L675.03 132.29 L677.42 132.29 L679.81 132.29 L682.2 132.29" fill="none" stroke="#1010ff" stroke-width="0.9"/>
<line x1="524.6" y1="12.3" x2="524.6" y2="144.2" stroke="#333" stroke-width="0.9"/>
<line x1="554.7" y1="12.3" x2="554.7" y2="144.2" stroke="#333" stroke-width="0.9"/>
<line x1="578.6" y1="12.3" x2="578.6" y2="144.2" stroke="#333" stroke-width="0.9"/>
<line x1="607.5" y1="12.3" x2="607.5" y2="144.2" stroke="#333" stroke-width="0.9"/>
<line x1="629.9" y1="12.3" x2="629.9" y2="144.2" stroke="#333" stroke-width="0.9"/>
<line x1="658.3" y1="12.3" x2="658.3" y2="144.2" stroke="#333" stroke-width="0.9"/>
<rect x="503.0" y="12.3" width="179.2" height="131.9" fill="none" stroke="#333" stroke-width="0.9"/>
<line x1="500.5" y1="144.16" x2="503.0" y2="144.16" stroke="#222" stroke-width="0.8"/>
<text x="496.9" y="146.96" font-size="7" text-anchor="end" fill="#161616">-10</text>
<line x1="500.5" y1="122.18" x2="503.0" y2="122.18" stroke="#222" stroke-width="0.8"/>
<text x="496.9" y="124.98" font-size="7" text-anchor="end" fill="#161616">-5</text>
<line x1="500.5" y1="100.2" x2="503.0" y2="100.2" stroke="#222" stroke-width="0.8"/>
<text x="496.9" y="103" font-size="7" text-anchor="end" fill="#161616">0</text>
<line x1="500.5" y1="78.22" x2="503.0" y2="78.22" stroke="#222" stroke-width="0.8"/>
<text x="496.9" y="81.02" font-size="7" text-anchor="end" fill="#161616">5</text>
<line x1="500.5" y1="56.24" x2="503.0" y2="56.24" stroke="#222" stroke-width="0.8"/>
<text x="496.9" y="59.04" font-size="7" text-anchor="end" fill="#161616">10</text>
<line x1="500.5" y1="34.26" x2="503.0" y2="34.26" stroke="#222" stroke-width="0.8"/>
<text x="496.9" y="37.06" font-size="7" text-anchor="end" fill="#161616">15</text>
<line x1="500.5" y1="12.28" x2="503.0" y2="12.28" stroke="#222" stroke-width="0.8"/>
<text x="496.9" y="15.08" font-size="7" text-anchor="end" fill="#161616">20</text>
<line x1="501.5" y1="133.17" x2="503.0" y2="133.17" stroke="#222" stroke-width="0.7"/>
<line x1="501.5" y1="111.19" x2="503.0" y2="111.19" stroke="#222" stroke-width="0.7"/>
<line x1="501.5" y1="89.21" x2="503.0" y2="89.21" stroke="#222" stroke-width="0.7"/>
<line x1="501.5" y1="67.23" x2="503.0" y2="67.23" stroke="#222" stroke-width="0.7"/>
<line x1="501.5" y1="45.25" x2="503.0" y2="45.25" stroke="#222" stroke-width="0.7"/>
<line x1="501.5" y1="23.27" x2="503.0" y2="23.27" stroke="#222" stroke-width="0.7"/>
<text x="503" y="154.8" font-size="7.2" text-anchor="middle" fill="#161616">Z</text>
<text x="524.6" y="154.8" font-size="7.2" text-anchor="middle" fill="#161616">G</text>
<text x="554.7" y="154.8" font-size="7.2" text-anchor="middle" fill="#161616">Y</text>
<text x="578.6" y="154.8" font-size="7.2" text-anchor="middle" fill="#161616">A</text>
<text x="607.5" y="154.8" font-size="7.2" text-anchor="middle" fill="#161616">B</text>
<text x="629.9" y="154.8" font-size="7.2" text-anchor="middle" fill="#161616">D</text>
<text x="658.3" y="154.8" font-size="7.2" text-anchor="middle" fill="#161616">E</text>
<text x="682.2" y="154.8" font-size="7.2" text-anchor="middle" fill="#161616">C</text>
<text transform="translate(479.9 78.2) rotate(-90)" font-size="7.3" text-anchor="middle" fill="#161616">Energy (eV)</text>
<line x1="524.6" y1="100.2" x2="524.6" y2="79" stroke="#f7891f" stroke-width="1.3"/>
<polygon points="522.2,80.2 527.0,80.2 524.6,75.4" fill="#f7891f"/>
<text x="532" y="90.4" font-size="7.3" fill="#161616"><tspan font-style="italic">E</tspan><tspan font-size="5" dy="1.8">g</tspan><tspan dy="-1.8"> = 5.67 eV</tspan></text>
<text x="-0.6" y="192.6" font-size="14" font-weight="bold">d</text>
<g transform="translate(0 0.4)">
<path d="M34 316.9 C34.2 314.08 34.82 304.98 35.2 300 C35.58 295.02 35.98 289.63 36.3 287 C36.62 284.37 36.77 284.37 37.1 284.2 C37.43 284.03 37.93 285.03 38.3 286 C38.67 286.97 38.95 289.23 39.3 290 C39.65 290.77 40.03 291.02 40.4 290.6 C40.77 290.18 41.18 288.3 41.5 287.5 C41.82 286.7 42 287.05 42.3 285.8 C42.6 284.55 42.95 283.3 43.3 280 C43.65 276.7 44.05 269.47 44.4 266 C44.75 262.53 45.08 259.53 45.4 259.2 C45.72 258.87 46 259.7 46.3 264 C46.6 268.3 46.88 277.67 47.2 285 C47.52 292.33 47.87 302.68 48.2 308 C48.53 313.32 49.03 315.42 49.2 316.9 Z" fill="#ababab" stroke="#9a9a9a" stroke-width="0.5"/>
<rect x="34.3" y="316.6" width="14.6" height="2.0" fill="#ababab"/>
<path d="M51.6 316.9 C51.83 315.25 52.52 311.15 53 307 C53.48 302.85 54 297.33 54.5 292 C55 286.67 55.53 280 56 275 C56.47 270 56.9 265.92 57.3 262 C57.7 258.08 58.02 253.13 58.4 251.5 C58.78 249.87 59.17 253.25 59.6 252.2 C60.03 251.15 60.42 250.38 61 245.2 C61.58 240.02 62.52 222.77 63.1 221.1 C63.68 219.43 64.07 229.17 64.5 235.2 C64.93 241.23 65.37 250.5 65.7 257.3 C66.03 264.1 66.23 273.88 66.5 276 C66.77 278.12 66.97 275.13 67.3 270 C67.63 264.87 68.03 252.85 68.5 245.2 C68.97 237.55 69.57 225.43 70.1 224.1 C70.63 222.77 71.2 233.02 71.7 237.2 C72.2 241.38 72.63 245.02 73.1 249.2 C73.57 253.38 74 262.97 74.5 262.3 C75 261.63 75.57 253.42 76.1 245.2 C76.63 236.98 77.2 217.68 77.7 213 C78.2 208.32 78.58 214.75 79.1 217.1 C79.62 219.45 80.28 226.77 80.8 227.1 C81.32 227.43 81.73 222.28 82.2 219.1 C82.67 215.92 83.2 206.33 83.6 208 C84 209.67 84.3 217.93 84.6 229.1 C84.9 240.27 85.17 262.35 85.4 275 C85.63 287.65 85.83 298.02 86 305 C86.17 311.98 86.33 314.92 86.4 316.9 Z" fill="#ababab" stroke="#9a9a9a" stroke-width="0.5"/>
<rect x="51.9" y="316.6" width="34.2" height="2.0" fill="#ababab"/>
<path d="M117 316.9 C117.25 314.92 118.03 309.48 118.5 305 C118.97 300.52 119.38 294.33 119.8 290 C120.22 285.67 120.7 281.13 121 279 C121.3 276.87 121.27 277.5 121.6 277.2 C121.93 276.9 122.52 276.73 123 277.2 C123.48 277.67 123.93 279.7 124.5 280 C125.07 280.3 125.75 278.5 126.4 279 C127.05 279.5 127.75 281.83 128.4 283 C129.05 284.17 129.67 284.73 130.3 286 C130.93 287.27 131.57 290.95 132.2 290.6 C132.83 290.25 133.37 285.67 134.1 283.9 C134.83 282.13 135.78 280.82 136.6 280 C137.42 279.18 138.22 281.17 139 279 C139.78 276.83 140.67 268.12 141.3 267 C141.93 265.88 142.23 270.3 142.8 272.3 C143.37 274.3 144 277.38 144.7 279 C145.4 280.62 146.35 280.38 147 282 C147.65 283.62 148.02 290.63 148.6 288.7 C149.18 286.77 149.87 274.42 150.5 270.4 C151.13 266.38 151.75 265.4 152.4 264.6 C153.05 263.8 153.75 265.75 154.4 265.6 C155.05 265.45 155.73 263.38 156.3 263.7 C156.87 264.02 157.32 265.25 157.8 267.5 C158.28 269.75 158.65 277.35 159.2 277.2 C159.75 277.05 160.47 270.63 161.1 266.6 C161.73 262.57 162.38 258.22 163 253 C163.62 247.78 164.18 235.6 164.8 235.3 C165.42 235 166.13 247 166.7 251.2 C167.27 255.4 167.73 259.88 168.2 260.5 C168.67 261.12 168.97 254.75 169.5 254.9 C170.03 255.05 170.78 261.72 171.4 261.4 C172.02 261.08 172.58 254.7 173.2 253 C173.82 251.3 174.47 252.45 175.1 251.2 C175.73 249.95 176.47 248.32 177 245.5 C177.53 242.68 177.82 238.03 178.3 234.3 C178.78 230.57 179.35 222.15 179.9 223.1 C180.45 224.05 181 236.73 181.6 240 C182.2 243.27 183.03 242.7 183.5 242.7 C183.97 242.7 183.93 239.37 184.4 240 C184.87 240.63 185.67 244.95 186.3 246.5 C186.93 248.05 187.67 246.65 188.2 249.3 C188.73 251.95 189.03 255.62 189.5 262.4 C189.97 269.18 190.5 282.4 191 290 C191.5 297.6 192.02 303.52 192.5 308 C192.98 312.48 193.67 315.42 193.9 316.9 Z" fill="#ababab" stroke="#9a9a9a" stroke-width="0.5"/>
<rect x="117.3" y="316.6" width="76.3" height="2.0" fill="#ababab"/>
<path d="M27.2 316.9 C28.02 316.9 33.35 316.9 34.2 316.9 C35.05 316.9 34.17 317.03 34.5 316.9 C34.83 316.77 36.24 315.92 37 315.8 C37.76 315.68 40.07 315.95 41 315.9 C41.93 315.85 44.12 315.28 45 315.4 C45.88 315.52 48.06 316.72 48.5 316.9 C48.94 317.07 48.43 316.9 48.8 316.9 C49.17 316.9 51.33 316.9 51.7 316.9 C52.07 316.9 51.5 317 52 316.9 C52.5 316.79 55.07 316.34 56 316 C56.93 315.66 59.18 314.43 60 314 C60.82 313.57 62.3 312.36 63 312.3 C63.7 312.24 65.18 313.24 66 313.5 C66.82 313.76 68.95 314.27 70 314.5 C71.05 314.73 73.13 315.22 75 315.5 C76.87 315.78 84.68 316.74 86 316.9 C87.32 317.06 82.66 316.9 86.3 316.9 C89.94 316.9 113.56 316.9 117.2 316.9 C120.84 316.9 117.06 317.06 117.5 316.9 C117.94 316.74 119.54 315.66 121 315.5 C122.46 315.34 127.78 315.56 130 315.5 C132.22 315.44 137.67 315.09 140 315 C142.33 314.91 147.67 314.76 150 314.7 C152.33 314.64 157.67 314.52 160 314.5 C162.33 314.48 167.67 314.56 170 314.5 C172.33 314.44 177.9 313.94 180 314 C182.1 314.06 186.37 314.66 188 315 C189.63 315.34 193.26 316.68 194 316.9 C194.74 317.12 193.53 316.9 194.3 316.9 C195.07 316.9 199.87 316.9 200.6 316.9" fill="none" stroke="#f5a04a" stroke-width="0.8" stroke-linejoin="round"/>
<path d="M27.2 316.9 C28.02 316.9 33.35 316.9 34.2 316.9 C35.05 316.9 34.17 317.09 34.5 316.9 C34.83 316.71 36.36 315.45 37 315.3 C37.64 315.15 39.07 315.64 40 315.6 C40.93 315.56 44.07 314.89 45 315 C45.93 315.11 47.53 316.28 48 316.5 C48.47 316.72 48.85 316.85 49 316.9 C49.15 316.95 48.98 316.9 49.3 316.9 C49.61 316.9 51.39 316.9 51.7 316.9 C52.02 316.9 51.03 317 52 316.9 C52.97 316.79 58.48 316.16 60 316 C61.52 315.84 63.83 315.52 65 315.5 C66.17 315.48 68.25 315.74 70 315.8 C71.75 315.86 78.13 315.87 80 316 C81.87 316.13 85.27 316.79 86 316.9 C86.73 317 82.66 316.9 86.3 316.9 C89.94 316.9 113.56 316.9 117.2 316.9 C120.84 316.9 117.17 317.12 117.5 316.9 C117.83 316.68 119.36 315.28 120 315 C120.64 314.72 122.25 315.17 123 314.5 C123.75 313.83 125.82 309.59 126.4 309.3 C126.98 309.01 127.46 311.45 128 312 C128.54 312.55 130.18 313.88 131 314 C131.82 314.12 134.18 313.47 135 313 C135.82 312.53 137.31 310.58 138 310 C138.69 309.42 140.22 308.16 140.9 308 C141.58 307.84 143.21 308.13 143.8 308.6 C144.4 309.07 145.51 311.49 146 312 C146.49 312.51 147.3 312.94 148 313 C148.7 313.06 151.18 312.62 152 312.5 C152.82 312.38 154.3 312.12 155 312 C155.7 311.88 157.3 311.73 158 311.5 C158.7 311.27 160.42 310.64 161 310 C161.58 309.36 162.53 306.69 163 306 C163.47 305.31 164.53 303.87 165 304.1 C165.47 304.33 166.56 307.1 167 308 C167.44 308.9 168.33 311.28 168.8 311.8 C169.27 312.32 170.39 312.59 171 312.5 C171.61 312.41 173.3 311.52 174 311 C174.7 310.48 176.37 308.69 177 308 C177.63 307.31 178.88 305.22 179.4 305.1 C179.93 304.98 180.96 306.55 181.5 307 C182.04 307.45 183.47 308.53 184 309 C184.53 309.47 185.53 310.59 186 311 C186.47 311.41 187.42 312.03 188 312.5 C188.58 312.97 190.3 314.49 191 315 C191.7 315.51 193.62 316.68 194 316.9 C194.38 317.12 193.53 316.9 194.3 316.9 C195.07 316.9 199.87 316.9 200.6 316.9" fill="none" stroke="#ee2a2a" stroke-width="0.8" stroke-linejoin="round"/>
<path d="M27.2 316.9 C28 316.9 33.26 316.9 34.1 316.9 C34.94 316.9 34.2 317.35 34.4 316.9 C34.6 316.44 35.46 313.54 35.8 313 C36.14 312.46 36.95 312.3 37.3 312.3 C37.65 312.3 38.43 312.74 38.8 313 C39.17 313.26 40.13 314.29 40.5 314.5 C40.87 314.71 41.65 314.86 42 314.8 C42.35 314.74 43.15 313.92 43.5 314 C43.85 314.08 44.59 315.21 45 315.5 C45.41 315.79 46.59 316.34 47 316.5 C47.41 316.66 48.29 316.85 48.5 316.9 C48.71 316.95 48.43 316.9 48.8 316.9 C49.17 316.9 51.33 316.9 51.7 316.9 C52.07 316.9 51.5 316.97 52 316.9 C52.5 316.83 55.07 316.46 56 316.3 C56.93 316.14 59.18 315.65 60 315.5 C60.82 315.35 62.3 315 63 315 C63.7 315 65.18 315.48 66 315.5 C66.82 315.52 68.95 315.14 70 315.2 C71.05 315.26 73.83 315.88 75 316 C76.17 316.12 78.72 316.09 80 316.2 C81.28 316.31 85.27 316.82 86 316.9 C86.73 316.98 82.66 316.9 86.3 316.9 C89.94 316.9 113.56 316.9 117.2 316.9 C120.84 316.9 117.06 317 117.5 316.9 C117.94 316.79 120.12 316.16 121 316 C121.88 315.84 123.95 315.62 125 315.5 C126.05 315.38 128.83 315.18 130 315 C131.17 314.82 133.73 314.3 135 314 C136.27 313.7 139.97 312.4 140.9 312.4 C141.83 312.4 142.41 313.75 143 314 C143.59 314.25 145.18 314.73 146 314.5 C146.82 314.27 149.18 312.47 150 312 C150.82 311.53 152.26 311.04 153 310.5 C153.74 309.96 155.66 307.46 156.3 307.4 C156.94 307.34 157.95 309.46 158.5 310 C159.05 310.54 160.36 311.59 161 312 C161.64 312.41 163.3 313.24 164 313.5 C164.7 313.76 166.3 314.08 167 314.2 C167.7 314.32 169.3 314.58 170 314.5 C170.7 314.42 172.3 313.68 173 313.5 C173.7 313.32 175.3 313.12 176 313 C176.7 312.88 178.3 312.5 179 312.5 C179.7 312.5 181.3 312.88 182 313 C182.7 313.12 184.3 313.32 185 313.5 C185.7 313.68 187.3 314.21 188 314.5 C188.7 314.79 190.3 315.72 191 316 C191.7 316.28 193.62 316.79 194 316.9 C194.38 317 193.53 316.9 194.3 316.9 C195.07 316.9 199.87 316.9 200.6 316.9" fill="none" stroke="#2233ee" stroke-width="0.8" stroke-linejoin="round"/>
<path d="M27.2 316.9 C28.02 316.9 33.35 316.9 34.2 316.9 C35.05 316.9 34.29 317.12 34.5 316.9 C34.71 316.68 35.71 315.45 36 315 C36.29 314.55 36.71 313 37 313 C37.29 313 38.15 314.77 38.5 315 C38.85 315.23 39.59 315.23 40 315 C40.41 314.77 41.59 313.82 42 313 C42.41 312.18 43.15 309.17 43.5 308 C43.85 306.83 44.71 303.35 45 303 C45.29 302.65 45.77 304.07 46 305 C46.23 305.93 46.71 309.66 47 311 C47.29 312.34 48.15 315.81 48.5 316.5 C48.85 317.19 49.79 316.85 50 316.9 C50.21 316.95 50.1 316.9 50.3 316.9 C50.5 316.9 51.5 316.9 51.7 316.9 C51.9 316.9 51.73 317.06 52 316.9 C52.27 316.74 53.53 315.95 54 315.5 C54.47 315.05 55.53 313.58 56 313 C56.47 312.42 57.53 311.08 58 310.5 C58.47 309.92 59.53 308.52 60 308 C60.47 307.48 61.59 306.3 62 306 C62.41 305.7 63.15 305.34 63.5 305.4 C63.85 305.46 64.59 306.08 65 306.5 C65.41 306.92 66.59 308.77 67 309 C67.41 309.23 68.15 308.5 68.5 308.5 C68.85 308.5 69.59 308.65 70 309 C70.41 309.35 71.53 310.98 72 311.5 C72.47 312.02 73.53 313.21 74 313.5 C74.47 313.79 75.3 313.88 76 314 C76.7 314.12 79.07 314.38 80 314.5 C80.93 314.62 83.3 314.77 84 315 C84.7 315.23 85.65 316.28 86 316.5 C86.35 316.72 86.85 316.85 87 316.9 C87.15 316.95 83.78 316.9 87.3 316.9 C90.82 316.9 113.68 316.9 117.2 316.9 C120.72 316.9 117.23 318.29 117.5 316.9 C117.77 315.51 119.02 307.83 119.5 305 C119.98 302.17 121.13 293.83 121.6 292.6 C122.07 291.38 122.94 293.82 123.5 294.5 C124.06 295.18 125.72 297.62 126.4 298.4 C127.08 299.18 128.62 300.53 129.3 301.2 C129.98 301.87 131.52 303.98 132.2 304.1 C132.88 304.22 134.42 301.75 135.1 302.2 C135.78 302.65 137.32 307.21 138 308 C138.68 308.79 140.12 308.77 140.9 309 C141.68 309.23 143.8 309.78 144.7 310 C145.6 310.22 147.7 310.9 148.6 310.9 C149.5 310.9 151.62 310 152.4 310 C153.18 310 154.62 310.9 155.3 310.9 C155.98 310.9 157.52 310.45 158.2 310 C158.88 309.55 160.42 308.03 161.1 307 C161.78 305.97 163.32 301.2 164 301.2 C164.68 301.2 166.22 306.44 166.9 307 C167.58 307.56 169.02 306.05 169.8 306 C170.58 305.95 172.82 306.6 173.6 306.6 C174.38 306.6 175.82 306.13 176.5 306 C177.18 305.87 178.72 305.27 179.4 305.5 C180.08 305.73 181.62 307.48 182.3 308 C182.98 308.52 184.42 309.56 185.2 310 C185.98 310.44 188.21 311.13 189 311.8 C189.79 312.47 191.42 315.11 192 315.7 C192.58 316.29 193.73 316.76 194 316.9 C194.27 317.04 193.53 316.9 194.3 316.9 C195.07 316.9 199.87 316.9 200.6 316.9" fill="none" stroke="#ee22ee" stroke-width="0.8" stroke-linejoin="round"/>
<path d="M27.2 316.9 C28 316.9 33.26 316.9 34.1 316.9 C34.94 316.9 34.26 318.29 34.4 316.9 C34.54 315.51 35.08 307.44 35.3 305 C35.52 302.56 36.07 297.34 36.3 296 C36.53 294.66 37.04 293.38 37.3 293.5 C37.56 293.62 38.19 296.15 38.5 297 C38.81 297.85 39.65 300.8 40 300.8 C40.35 300.8 41.15 298.26 41.5 297 C41.85 295.74 42.67 291.98 43 290 C43.33 288.02 44.02 281.61 44.3 280 C44.58 278.39 45.17 275.85 45.4 276.2 C45.63 276.55 46.08 280.22 46.3 283 C46.52 285.78 47.07 296.5 47.3 300 C47.53 303.5 48.08 311.03 48.3 313 C48.52 314.97 49.06 316.44 49.2 316.9 C49.34 317.35 49.23 316.9 49.5 316.9 C49.77 316.9 51.23 316.9 51.5 316.9 C51.77 316.9 51.6 317.7 51.8 316.9 C52 316.09 52.87 312.2 53.2 310 C53.53 307.8 54.27 301.27 54.6 298 C54.93 294.73 55.65 285.35 56 282 C56.35 278.65 57.25 271.01 57.6 269.3 C57.95 267.59 58.66 267.65 59 267.3 C59.34 266.95 60.19 267.94 60.5 266.3 C60.81 264.66 61.4 255.89 61.7 253.2 C62 250.5 62.77 243.43 63.1 243.2 C63.43 242.97 64.2 248.39 64.5 251.2 C64.8 254.01 65.47 263.37 65.7 267.3 C65.93 271.23 66.3 284 66.5 284.9 C66.7 285.8 67.17 278.45 67.4 275 C67.63 271.55 68.19 259.71 68.5 255.3 C68.81 250.89 69.73 238.5 70.1 237.2 C70.47 235.9 71.35 242.09 71.7 244.2 C72.05 246.31 72.77 253.07 73.1 255.3 C73.43 257.53 74.15 264.01 74.5 263.3 C74.85 262.59 75.73 254.59 76.1 249.2 C76.47 243.81 77.35 220.61 77.7 217.1 C78.05 213.59 78.74 217.82 79.1 219.1 C79.46 220.38 80.44 227.75 80.8 228.1 C81.16 228.45 81.87 223.86 82.2 222.1 C82.53 220.34 83.32 211.47 83.6 213 C83.88 214.53 84.39 227.97 84.6 235.2 C84.81 242.43 85.24 266.86 85.4 275 C85.56 283.14 85.87 300.11 86 305 C86.13 309.89 86.41 315.51 86.5 316.9 C86.59 318.29 83.22 316.9 86.8 316.9 C90.38 316.9 113.62 316.9 117.2 316.9 C120.78 316.9 117.23 317.24 117.5 316.9 C117.77 316.56 119.02 314.48 119.5 314 C119.98 313.52 121.13 313.09 121.6 312.8 C122.07 312.51 123.05 311.68 123.5 311.5 C123.95 311.32 124.97 311.18 125.5 311.3 C126.03 311.42 127.36 312.24 128 312.5 C128.64 312.76 130.3 313.32 131 313.5 C131.7 313.68 133.3 314 134 314 C134.7 314 136.3 313.68 137 313.5 C137.7 313.32 139.3 312.56 140 312.5 C140.7 312.44 142.3 312.82 143 313 C143.7 313.18 145.3 313.82 146 314 C146.7 314.18 148.3 314.56 149 314.5 C149.7 314.44 151.3 313.68 152 313.5 C152.7 313.32 154.3 313.18 155 313 C155.7 312.82 157.3 312.06 158 312 C158.7 311.94 160.3 312.38 161 312.5 C161.7 312.62 163.3 312.88 164 313 C164.7 313.12 166.3 313.5 167 313.5 C167.7 313.5 169.3 313.18 170 313 C170.7 312.82 172.3 312 173 312 C173.7 312 175.3 313 176 313 C176.7 313 178.3 312.18 179 312 C179.7 311.82 181.3 311.44 182 311.5 C182.7 311.56 184.3 312.32 185 312.5 C185.7 312.68 187.3 312.71 188 313 C188.7 313.29 190.3 314.55 191 315 C191.7 315.45 193.62 316.68 194 316.9 C194.38 317.12 193.53 316.9 194.3 316.9 C195.07 316.9 199.87 316.9 200.6 316.9" fill="none" stroke="#2e9a32" stroke-width="0.9" stroke-linejoin="round"/>
</g>
<line x1="27.2" y1="192.4" x2="200.6" y2="192.4" stroke="#222" stroke-width="0.9"/>
<line x1="200.6" y1="192.4" x2="200.6" y2="319.2" stroke="#888" stroke-width="0.9"/>
<path d="M27.2 192.4 V319.2 H200.6" fill="none" stroke="#222" stroke-width="0.9"/>
<line x1="24.7" y1="316.9" x2="27.2" y2="316.9" stroke="#222" stroke-width="0.8"/>
<text x="21.8" y="319.3" font-size="7" text-anchor="end" fill="#161616">0</text>
<line x1="24.7" y1="267.3" x2="27.2" y2="267.3" stroke="#222" stroke-width="0.8"/>
<text x="21.8" y="269.7" font-size="7" text-anchor="end" fill="#161616">5</text>
<line x1="24.7" y1="217.7" x2="27.2" y2="217.7" stroke="#222" stroke-width="0.8"/>
<text x="21.8" y="220.1" font-size="7" text-anchor="end" fill="#161616">10</text>
<line x1="25.7" y1="292.1" x2="27.2" y2="292.1" stroke="#222" stroke-width="0.7"/>
<line x1="25.7" y1="242.5" x2="27.2" y2="242.5" stroke="#222" stroke-width="0.7"/>
<line x1="25.7" y1="192.9" x2="27.2" y2="192.9" stroke="#222" stroke-width="0.7"/>
<line x1="27.2" y1="319.2" x2="27.2" y2="321.7" stroke="#222" stroke-width="0.8"/>
<text x="27.2" y="332.2" font-size="7" text-anchor="middle" fill="#161616">-10</text>
<line x1="41.65" y1="319.2" x2="41.65" y2="320.7" stroke="#222" stroke-width="0.8"/>
<line x1="56.1" y1="319.2" x2="56.1" y2="321.7" stroke="#222" stroke-width="0.8"/>
<text x="56.1" y="332.2" font-size="7" text-anchor="middle" fill="#161616">-5</text>
<line x1="70.55" y1="319.2" x2="70.55" y2="320.7" stroke="#222" stroke-width="0.8"/>
<line x1="85" y1="319.2" x2="85" y2="321.7" stroke="#222" stroke-width="0.8"/>
<text x="85" y="332.2" font-size="7" text-anchor="middle" fill="#161616">0</text>
<line x1="99.45" y1="319.2" x2="99.45" y2="320.7" stroke="#222" stroke-width="0.8"/>
<line x1="113.9" y1="319.2" x2="113.9" y2="321.7" stroke="#222" stroke-width="0.8"/>
<text x="113.9" y="332.2" font-size="7" text-anchor="middle" fill="#161616">5</text>
<line x1="128.35" y1="319.2" x2="128.35" y2="320.7" stroke="#222" stroke-width="0.8"/>
<line x1="142.8" y1="319.2" x2="142.8" y2="321.7" stroke="#222" stroke-width="0.8"/>
<text x="142.8" y="332.2" font-size="7" text-anchor="middle" fill="#161616">10</text>
<line x1="157.25" y1="319.2" x2="157.25" y2="320.7" stroke="#222" stroke-width="0.8"/>
<line x1="171.7" y1="319.2" x2="171.7" y2="321.7" stroke="#222" stroke-width="0.8"/>
<text x="171.7" y="332.2" font-size="7" text-anchor="middle" fill="#161616">15</text>
<line x1="186.15" y1="319.2" x2="186.15" y2="320.7" stroke="#222" stroke-width="0.8"/>
<line x1="200.6" y1="319.2" x2="200.6" y2="321.7" stroke="#222" stroke-width="0.8"/>
<text x="200.6" y="332.2" font-size="7" text-anchor="middle" fill="#161616">20</text>
<text x="112.8" y="344.3" font-size="7.3" text-anchor="middle" fill="#161616">Energy (eV)</text>
<text transform="translate(6.7 257.3) rotate(-90)" font-size="7.4" text-anchor="middle" fill="#161616">DOS (electrons/eV)</text>
<line x1="112" y1="199.7" x2="126.6" y2="199.7" stroke="#aaaaaa" stroke-width="1.3"/>
<text x="129.8" y="202" font-size="6.4" fill="#161616">Total</text>
<line x1="147.6" y1="199.7" x2="161.9" y2="199.7" stroke="#ee22ee" stroke-width="0.9"/>
<text x="165.2" y="202" font-size="6.4" fill="#161616">B-<tspan font-style="italic">p</tspan></text>
<line x1="112" y1="208.3" x2="126.6" y2="208.3" stroke="#ee2a2a" stroke-width="0.9"/>
<text x="129.8" y="210.6" font-size="6.4" fill="#161616">Li-<tspan font-style="italic">s</tspan></text>
<line x1="147.6" y1="208.3" x2="161.9" y2="208.3" stroke="#f5a04a" stroke-width="0.9"/>
<text x="165.2" y="210.6" font-size="6.4" fill="#161616">O-<tspan font-style="italic">s</tspan></text>
<line x1="112" y1="217.2" x2="126.6" y2="217.2" stroke="#2233ee" stroke-width="0.9"/>
<text x="129.8" y="219.5" font-size="6.4" fill="#161616">B-<tspan font-style="italic">s</tspan></text>
<line x1="147.6" y1="217.2" x2="161.9" y2="217.2" stroke="#2e9a32" stroke-width="0.9"/>
<text x="165.2" y="219.5" font-size="6.4" fill="#161616">O-<tspan font-style="italic">p</tspan></text>
<text x="217.8" y="193.4" font-size="14.5" font-weight="bold">e</text>
<line x1="252.4" y1="192.5" x2="427.0" y2="192.5" stroke="#555" stroke-width="0.9"/>
<line x1="427.0" y1="192.5" x2="427.0" y2="320.5" stroke="#8a8a8a" stroke-width="1.1"/>
<path d="M252.4 192.5 V320.5 H427.0" fill="none" stroke="#222" stroke-width="0.9"/>
<line x1="249.9" y1="320.5" x2="252.4" y2="320.5" stroke="#222" stroke-width="0.8"/>
<text x="246.3" y="322.9" font-size="7.3" text-anchor="end" fill="#161616">0.00</text>
<line x1="249.9" y1="299.17" x2="252.4" y2="299.17" stroke="#222" stroke-width="0.8"/>
<text x="246.3" y="301.57" font-size="7.3" text-anchor="end" fill="#161616">0.05</text>
<line x1="249.9" y1="277.83" x2="252.4" y2="277.83" stroke="#222" stroke-width="0.8"/>
<text x="246.3" y="280.23" font-size="7.3" text-anchor="end" fill="#161616">0.10</text>
<line x1="249.9" y1="256.5" x2="252.4" y2="256.5" stroke="#222" stroke-width="0.8"/>
<text x="246.3" y="258.9" font-size="7.3" text-anchor="end" fill="#161616">0.15</text>
<line x1="249.9" y1="235.17" x2="252.4" y2="235.17" stroke="#222" stroke-width="0.8"/>
<text x="246.3" y="237.57" font-size="7.3" text-anchor="end" fill="#161616">0.20</text>
<line x1="249.9" y1="213.83" x2="252.4" y2="213.83" stroke="#222" stroke-width="0.8"/>
<text x="246.3" y="216.23" font-size="7.3" text-anchor="end" fill="#161616">0.25</text>
<line x1="249.9" y1="192.5" x2="252.4" y2="192.5" stroke="#222" stroke-width="0.8"/>
<text x="246.3" y="194.9" font-size="7.3" text-anchor="end" fill="#161616">0.30</text>
<line x1="250.9" y1="309.83" x2="252.4" y2="309.83" stroke="#222" stroke-width="0.7"/>
<line x1="250.9" y1="288.5" x2="252.4" y2="288.5" stroke="#222" stroke-width="0.7"/>
<line x1="250.9" y1="267.17" x2="252.4" y2="267.17" stroke="#222" stroke-width="0.7"/>
<line x1="250.9" y1="245.83" x2="252.4" y2="245.83" stroke="#222" stroke-width="0.7"/>
<line x1="250.9" y1="224.5" x2="252.4" y2="224.5" stroke="#222" stroke-width="0.7"/>
<line x1="250.9" y1="203.17" x2="252.4" y2="203.17" stroke="#222" stroke-width="0.7"/>
<line x1="257.25" y1="320.5" x2="257.25" y2="322" stroke="#222" stroke-width="0.8"/>
<line x1="281.5" y1="320.5" x2="281.5" y2="323" stroke="#222" stroke-width="0.8"/>
<text x="281.5" y="333" font-size="7.2" text-anchor="middle" fill="#161616">500</text>
<line x1="305.75" y1="320.5" x2="305.75" y2="322" stroke="#222" stroke-width="0.8"/>
<line x1="330" y1="320.5" x2="330" y2="323" stroke="#222" stroke-width="0.8"/>
<text x="330" y="333" font-size="7.2" text-anchor="middle" fill="#161616">1000</text>
<line x1="354.25" y1="320.5" x2="354.25" y2="322" stroke="#222" stroke-width="0.8"/>
<line x1="378.5" y1="320.5" x2="378.5" y2="323" stroke="#222" stroke-width="0.8"/>
<text x="378.5" y="333" font-size="7.2" text-anchor="middle" fill="#161616">1500</text>
<line x1="402.75" y1="320.5" x2="402.75" y2="322" stroke="#222" stroke-width="0.8"/>
<line x1="427" y1="320.5" x2="427" y2="323" stroke="#222" stroke-width="0.8"/>
<text x="427" y="333" font-size="7.2" text-anchor="middle" fill="#161616">2000</text>
<text x="338.5" y="345.6" font-size="7.3" text-anchor="middle" fill="#161616">Wavelength (nm)</text>
<text transform="translate(224 258.2) rotate(-90)" font-size="7.3" text-anchor="middle" fill="#161616">Birefringence</text>
<line x1="258.8" y1="192.5" x2="258.8" y2="320.5" stroke="#e8434a" stroke-width="0.8" stroke-dasharray="2.2 1.6"/>
<line x1="336.21" y1="192.5" x2="336.21" y2="320.5" stroke="#e8434a" stroke-width="0.8" stroke-dasharray="2.2 1.6"/>
<path d="M252.4 232.5 C252.58 233.3 253.02 235.55 253.5 237.3 C253.98 239.05 254.72 241.35 255.3 243 C255.88 244.65 256.37 245.97 257 247.2 C257.63 248.43 258.32 249.43 259.1 250.4 C259.88 251.37 260.68 252.18 261.7 253 C262.72 253.82 264.03 254.63 265.2 255.3 C266.37 255.97 267.33 256.47 268.7 257 C270.07 257.53 271.65 258.05 273.4 258.5 C275.15 258.95 277.27 259.35 279.2 259.7 C281.13 260.05 282.08 260.3 285 260.6 C287.92 260.9 292.8 261.27 296.7 261.5 C300.6 261.73 302.85 261.83 308.4 262 C313.95 262.17 321.4 262.37 330 262.5 C338.6 262.63 350 262.73 360 262.8 C370 262.87 379.78 262.88 390 262.9 C400.22 262.92 416.08 262.9 421.3 262.9" fill="none" stroke="#222" stroke-width="0.9"/>
<text x="267.5" y="248.6" font-size="7.4" fill="#161616">0.166 at 266 nm</text>
<text x="338.8" y="258.1" font-size="7.4" fill="#161616">0.136 at 1064 nm</text>
<text x="448.3" y="193.3" font-size="14" font-weight="bold">f</text>
<defs>
<radialGradient id="blobg" cx="50%" cy="50%" r="50%">
<stop offset="0" stop-color="#40c25a"/>
<stop offset="0.3" stop-color="#3ec15c"/>
<stop offset="0.55" stop-color="#3ab482"/>
<stop offset="0.76" stop-color="#3aa6a8"/>
<stop offset="0.9" stop-color="#44a0c0"/>
<stop offset="1" stop-color="#68acd0"/>
</radialGradient>
<radialGradient id="blobh" cx="48%" cy="52%" r="50%">
<stop offset="0" stop-color="#7a8a40"/>
<stop offset="0.2" stop-color="#5aa64a"/>
<stop offset="0.4" stop-color="#3ec05c"/>
<stop offset="0.58" stop-color="#3ab482"/>
<stop offset="0.77" stop-color="#3aa6a8"/>
<stop offset="0.9" stop-color="#44a0c0"/>
<stop offset="1" stop-color="#68acd0"/>
</radialGradient>
<filter id="soft" x="-10%" y="-10%" width="120%" height="120%"><feGaussianBlur stdDeviation="0.6"/></filter>
<linearGradient id="cbar" x1="0" y1="0" x2="0" y2="1">
<stop offset="0" stop-color="#e60c0c"/>
<stop offset="0.25" stop-color="#b8401a"/>
<stop offset="0.5" stop-color="#6f8a18"/>
<stop offset="0.66" stop-color="#22cc22"/>
<stop offset="0.85" stop-color="#10a090"/>
<stop offset="1" stop-color="#1a5ea8"/>
</linearGradient>
<linearGradient id="bondRP" x1="0" y1="0" x2="1" y2="0">
<stop offset="0" stop-color="#e21818"/>
<stop offset="0.5" stop-color="#f07070"/>
<stop offset="1" stop-color="#f4b0b0"/>
</linearGradient>
</defs>
<rect x="492.4" y="193.6" width="191.2" height="128.4" fill="#fff" stroke="#d0d0d0" stroke-width="0.9"/>
<rect x="448.2" y="242.1" width="4.8" height="50.5" fill="url(#cbar)"/>
<rect x="448.2" y="292.6" width="4.8" height="13.6" fill="#fff" stroke="#bbb" stroke-width="0.5"/>
<line x1="455" y1="242.6" x2="456.8" y2="242.6" stroke="#444" stroke-width="0.6"/>
<text x="458.3" y="245" font-size="7.3" fill="#161616">7.263e-1</text>
<line x1="455" y1="258.3" x2="456.8" y2="258.3" stroke="#444" stroke-width="0.6"/>
<text x="458.3" y="260.7" font-size="7.3" fill="#161616">5.806e-1</text>
<line x1="455" y1="274.9" x2="456.8" y2="274.9" stroke="#444" stroke-width="0.6"/>
<text x="458.3" y="277.3" font-size="7.3" fill="#161616">4.349e-1</text>
<line x1="455" y1="291.1" x2="456.8" y2="291.1" stroke="#444" stroke-width="0.6"/>
<text x="458.3" y="293.5" font-size="7.3" fill="#161616">2.893e-1</text>
<line x1="455" y1="305.8" x2="456.8" y2="305.8" stroke="#444" stroke-width="0.6"/>
<text x="458.3" y="308.2" font-size="7.3" fill="#161616">1.436e-1</text>
<g filter="url(#soft)">
<ellipse cx="534.1" cy="219.3" rx="9.3" ry="7" transform="rotate(8 534.1 219.3)" fill="url(#blobh)"/>
<ellipse cx="550.2" cy="222.7" rx="8" ry="8.7" transform="rotate(20 550.2 222.7)" fill="url(#blobg)"/>
<ellipse cx="589.3" cy="213.5" rx="7.8" ry="5.5" transform="rotate(0 589.3 213.5)" fill="url(#blobg)"/>
<ellipse cx="592.8" cy="231.8" rx="7.8" ry="6.2" transform="rotate(-35 592.8 231.8)" fill="url(#blobg)"/>
<ellipse cx="611.6" cy="235" rx="8.6" ry="7.3" transform="rotate(-10 611.6 235)" fill="url(#blobh)"/>
<ellipse cx="628" cy="232.2" rx="8.6" ry="9" transform="rotate(25 628 232.2)" fill="url(#blobg)"/>
<ellipse cx="566" cy="280.9" rx="8.6" ry="7.4" transform="rotate(0 566 280.9)" fill="url(#blobh)"/>
<ellipse cx="550.6" cy="284.1" rx="8.7" ry="8" transform="rotate(-20 550.6 284.1)" fill="url(#blobg)"/>
<ellipse cx="523.8" cy="290.3" rx="10" ry="10" transform="rotate(20 523.8 290.3)" fill="url(#blobh)"/>
<ellipse cx="511.5" cy="274.1" rx="8.4" ry="5" transform="rotate(0 511.5 274.1)" fill="url(#blobg)"/>
<ellipse cx="506" cy="292.2" rx="7" ry="6" transform="rotate(10 506 292.2)" fill="url(#blobg)"/>
<ellipse cx="601.3" cy="286.4" rx="10.2" ry="9.8" transform="rotate(-15 601.3 286.4)" fill="url(#blobh)"/>
<ellipse cx="584.3" cy="284.5" rx="7.3" ry="6.2" transform="rotate(-10 584.3 284.5)" fill="url(#blobg)"/>
<ellipse cx="589" cy="302.5" rx="8" ry="5.3" transform="rotate(10 589 302.5)" fill="url(#blobg)"/>
<ellipse cx="627.5" cy="293.2" rx="8.8" ry="9" transform="rotate(30 627.5 293.2)" fill="url(#blobg)"/>
<ellipse cx="644" cy="298" rx="9" ry="8.9" transform="rotate(0 644 298)" fill="url(#blobh)"/>
<path d="M531.2 197.4 C533.47 196.92 545.91 196.79 548.2 197.2 C550.49 197.61 548.83 199.65 548.4 200.5 C547.97 201.35 546.12 203.11 545 203.6 C543.88 204.09 541.4 204.2 540 204.2 C538.6 204.2 535.67 204.05 534.5 203.6 C533.33 203.15 531.64 201.63 531.2 200.8 C530.76 199.97 528.93 197.88 531.2 197.4 Z" fill="url(#blobg)"/>
<path d="M630.2 319.4 C632.47 319.93 644.91 319.76 647.2 319.2 C649.49 318.64 647.83 316.11 647.4 315.2 C646.97 314.29 645.19 312.84 644 312.4 C642.81 311.96 639.9 311.9 638.5 311.9 C637.1 311.9 634.61 311.96 633.5 312.4 C632.39 312.84 630.64 314.27 630.2 315.2 C629.76 316.13 627.93 318.87 630.2 319.4 Z" fill="url(#blobg)"/>
<path d="M560.2 248 C560.89 248 561.95 249.59 562.8 250.6 C563.65 251.61 565.77 254.27 566.6 255.6 C567.43 256.93 568.87 259.45 569 260.6 C569.13 261.75 568.77 263.53 567.6 264.2 C566.43 264.87 562.17 265.6 560.2 265.6 C558.23 265.6 553.97 264.87 552.8 264.2 C551.63 263.53 551.27 261.75 551.4 260.6 C551.53 259.45 552.97 256.93 553.8 255.6 C554.63 254.27 556.75 251.61 557.6 250.6 C558.45 249.59 559.51 248 560.2 248 Z" fill="url(#blobg)"/>
<path d="M616.8 267.4 C617.55 267.4 618.69 265.81 619.6 264.8 C620.51 263.79 622.75 261.16 623.6 259.8 C624.45 258.44 625.89 255.77 626 254.6 C626.11 253.43 625.55 251.59 624.4 251 C623.25 250.41 619.27 250.2 617.4 250.2 C615.53 250.2 611.55 250.41 610.4 251 C609.25 251.59 608.72 253.43 608.8 254.6 C608.88 255.77 610.31 258.44 611 259.8 C611.69 261.16 613.23 263.79 614 264.8 C614.77 265.81 616.05 267.4 616.8 267.4 Z" fill="url(#blobg)"/>
<path d="M630.8 196.2 C632.75 195.75 644.57 195.6 646.6 196 C648.63 196.4 646.48 198.24 646 199.2 C645.52 200.16 643.85 202.19 643 203.2 C642.15 204.21 640.51 206.8 639.6 206.8 C638.69 206.8 637.21 204.19 636.2 203.2 C635.19 202.21 632.72 200.33 632 199.4 C631.28 198.47 628.85 196.65 630.8 196.2 Z" fill="url(#blobg)"/>
<path d="M539.4 308.8 C540.25 308.8 541.64 311.01 542.6 312 C543.56 312.99 545.93 315.21 546.6 316.2 C547.27 317.19 549.65 318.97 547.6 319.4 C545.55 319.83 533.25 319.83 531.2 319.4 C529.15 318.97 531.53 317.19 532.2 316.2 C532.87 315.21 535.24 312.99 536.2 312 C537.16 311.01 538.55 308.8 539.4 308.8 Z" fill="url(#blobg)"/>
<path d="M644.6 220.4 C645.28 218.77 646.57 217.17 648.1 216.3 C649.63 215.43 651.8 215.2 653.8 215.2 C655.8 215.2 658.47 215.53 660.1 216.3 C661.73 217.07 662.92 218.17 663.6 219.8 C664.28 221.43 664.48 224.08 664.2 226.1 C663.92 228.12 663.15 230.33 661.9 231.9 C660.65 233.47 658.43 234.93 656.7 235.5 C654.97 236.07 653.23 235.9 651.5 235.3 C649.77 234.7 647.55 233.43 646.3 231.9 C645.05 230.37 644.28 228.02 644 226.1 C643.72 224.18 643.92 222.03 644.6 220.4 Z" fill="url(#blobh)"/>
<path d="M664.7 218.6 C665.47 217.77 667.17 217.1 668.8 217.1 C670.43 217.1 672.97 217.67 674.5 218.6 C676.03 219.53 677.42 221.07 678 222.7 C678.58 224.33 678.58 226.87 678 228.4 C677.42 229.93 675.95 231.62 674.5 231.9 C673.05 232.18 670.73 231.07 669.3 230.1 C667.87 229.13 666.75 227.43 665.9 226.1 C665.05 224.77 664.4 223.35 664.2 222.1 C664 220.85 663.93 219.43 664.7 218.6 Z" fill="url(#blobg)"/>
<path d="M658.4 240.5 C658.97 239.35 661.08 238.23 663 237.6 C664.92 236.97 667.98 236.6 669.9 236.7 C671.82 236.8 673.73 237.18 674.5 238.2 C675.27 239.22 675.27 241.47 674.5 242.8 C673.73 244.13 671.62 245.53 669.9 246.2 C668.18 246.87 665.92 247.08 664.2 246.8 C662.48 246.52 660.57 245.55 659.6 244.5 C658.63 243.45 657.83 241.65 658.4 240.5 Z" fill="url(#blobg)"/>
<path d="M566 233 C566.18 230.72 566.85 226.8 568.6 224.5 C570.35 222.2 573.8 219.98 576.5 219.2 C579.2 218.42 583.05 218.42 584.8 219.8 C586.55 221.18 587.22 224.88 587 227.5 C586.78 230.12 585.42 233.53 583.5 235.5 C581.58 237.47 578.17 238.85 575.5 239.3 C572.83 239.75 569.08 239.25 567.5 238.2 C565.92 237.15 565.82 235.28 566 233 Z" fill="url(#blobg)"/>
</g>
<line x1="538" y1="194.6" x2="539.6" y2="212.5" stroke="#e82020" stroke-width="1.05"/>
<line x1="563.4" y1="236.2" x2="551.5" y2="224.35" stroke="#f4b8b8" stroke-width="0.6"/>
<line x1="551.5" y1="224.35" x2="539.6" y2="212.5" stroke="#d23030" stroke-width="0.75"/>
<line x1="563.4" y1="236.2" x2="575.45" y2="230.35" stroke="#f4b8b8" stroke-width="0.6"/>
<line x1="575.45" y1="230.35" x2="587.5" y2="224.5" stroke="#d23030" stroke-width="0.75"/>
<line x1="563.4" y1="236.2" x2="561.3" y2="256.5" stroke="#f4b8b8" stroke-width="0.6"/>
<line x1="561.3" y1="256.5" x2="560" y2="275.1" stroke="#e82020" stroke-width="1.05"/>
<line x1="536.2" y1="297.3" x2="548.1" y2="286.2" stroke="#f4b8b8" stroke-width="0.6"/>
<line x1="548.1" y1="286.2" x2="560" y2="275.1" stroke="#d23030" stroke-width="0.75"/>
<line x1="536.2" y1="297.3" x2="524.1" y2="291.35" stroke="#f4b8b8" stroke-width="0.6"/>
<line x1="524.1" y1="291.35" x2="512" y2="285.4" stroke="#d23030" stroke-width="0.75"/>
<line x1="536.2" y1="297.3" x2="538.5" y2="318" stroke="#f4b8b8" stroke-width="0.6"/>
<line x1="640" y1="206.5" x2="642.2" y2="218.6" stroke="#f4b8b8" stroke-width="0.6"/>
<line x1="642.2" y1="218.6" x2="653.85" y2="224.1" stroke="#f4b8b8" stroke-width="0.6"/>
<line x1="653.85" y1="224.1" x2="665.5" y2="229.6" stroke="#d23030" stroke-width="0.75"/>
<line x1="642.2" y1="218.6" x2="630.2" y2="229.45" stroke="#f4b8b8" stroke-width="0.6"/>
<line x1="630.2" y1="229.45" x2="618.2" y2="240.3" stroke="#d23030" stroke-width="0.75"/>
<line x1="618.2" y1="240.3" x2="616.4" y2="259.5" stroke="#e82020" stroke-width="1.05"/>
<line x1="616.4" y1="259.5" x2="613.5" y2="280.2" stroke="#f4b8b8" stroke-width="0.6"/>
<line x1="613.5" y1="280.2" x2="601.75" y2="287.1" stroke="#f4b8b8" stroke-width="0.6"/>
<line x1="601.75" y1="287.1" x2="590" y2="294" stroke="#d23030" stroke-width="0.75"/>
<line x1="613.5" y1="280.2" x2="626" y2="291.1" stroke="#f4b8b8" stroke-width="0.6"/>
<line x1="626" y1="291.1" x2="638.5" y2="302" stroke="#d23030" stroke-width="0.75"/>
<line x1="638.5" y1="302" x2="639.2" y2="321" stroke="#e82020" stroke-width="1.05"/>
<text x="540.3" y="213.1" font-size="7" fill="#111">O1</text>
<text x="584.8" y="222.3" font-size="7" fill="#111">O2</text>
<text x="563.4" y="243.9" font-size="7" fill="#111">B</text>
<text x="640.3" y="222.2" font-size="7" fill="#111">B</text>
<text x="667.5" y="235.3" font-size="7" fill="#111">O2</text>
<text x="624.2" y="243.9" font-size="7" fill="#111">O1</text>
<text x="544.3" y="277.5" font-size="7" fill="#111">O1</text>
<text x="539.3" y="300.9" font-size="7" fill="#111">B</text>
<text x="500.5" y="287.2" font-size="7" fill="#111">O2</text>
<text x="616.2" y="280.7" font-size="7" fill="#111">B</text>
<text x="579.4" y="298.8" font-size="7" fill="#111">O2</text>
<text x="639.7" y="306.3" font-size="7" fill="#111">O1</text>
</svg>
</body></html>
